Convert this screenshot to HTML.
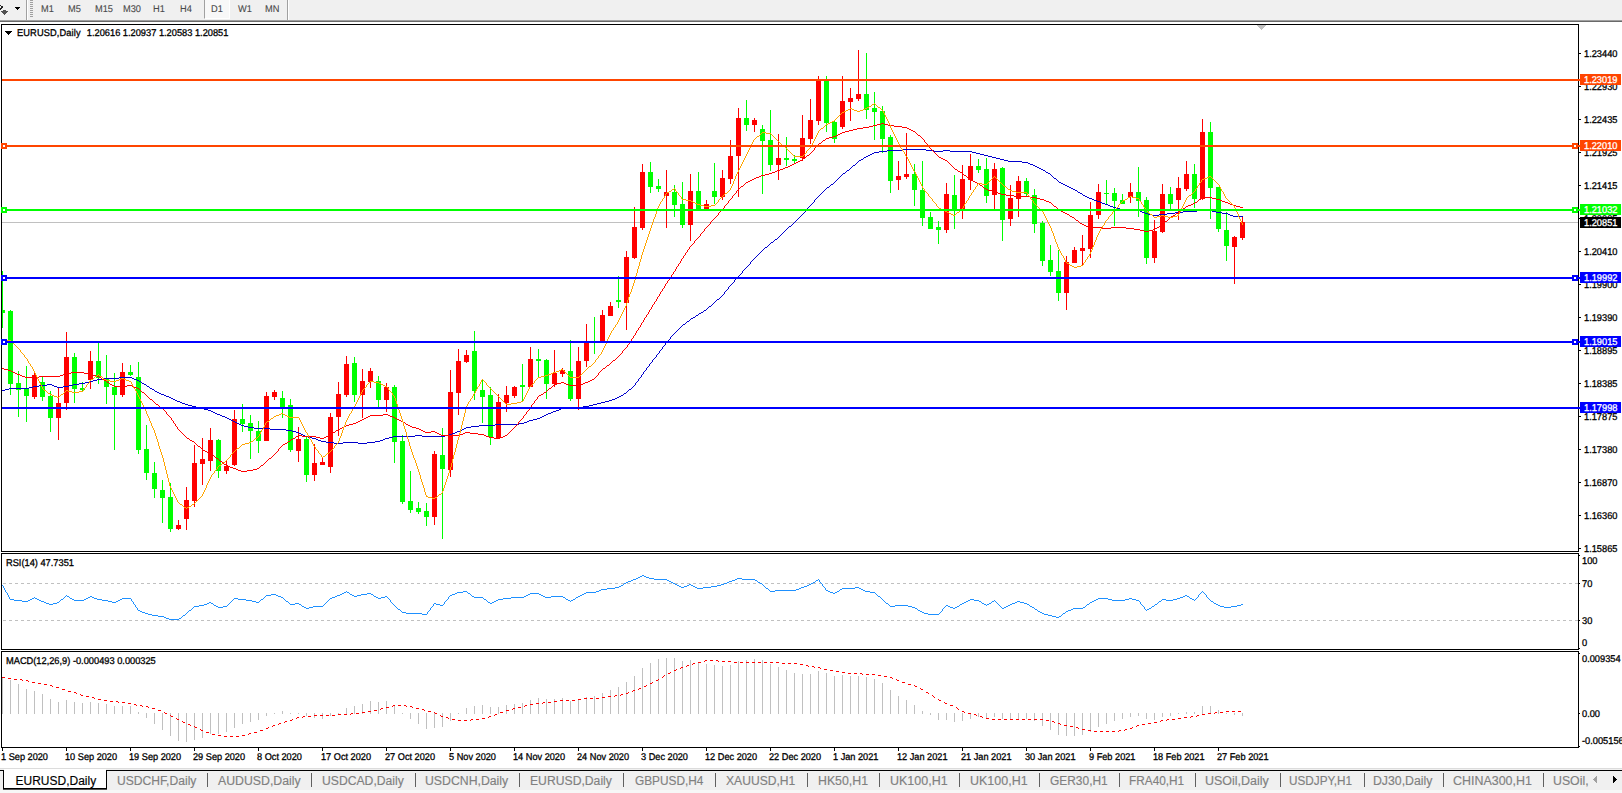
<!DOCTYPE html><html><head><meta charset="utf-8"><title>EURUSD,Daily</title><style>
html,body{margin:0;padding:0;background:#fff;}
body{width:1622px;height:793px;position:relative;overflow:hidden;font-family:"Liberation Sans",sans-serif;}
#app{position:absolute;left:0;top:0;width:1622px;height:793px;overflow:hidden;background:#fff;}
.tb{position:absolute;left:0;top:0;width:1622px;height:20px;background:#f0f0f0;}
.tb1{position:absolute;left:0;top:20px;width:1622px;height:1px;background:#a0a0a0;}
.tb2{position:absolute;left:0;top:21px;width:1622px;height:1px;background:#696969;}
.sep{position:absolute;top:0;width:1px;height:20px;background:#a0a0a0;}
.sepw{position:absolute;top:0;width:1px;height:20px;background:#fff;}
.s{position:absolute;font-size:9.8px;line-height:11px;color:#000;white-space:nowrap;transform:scaleX(.945);transform-origin:0 0;-webkit-text-stroke:.3px currentColor;text-rendering:geometricPrecision;}
.s.d{transform:scaleX(.937);}
.atabw{position:absolute;left:4px;top:769px;width:102px;height:2px;background:#fff;}
.s.btn{color:#484848;top:4px;-webkit-text-stroke:.1px currentColor;}
.sel{position:absolute;left:204px;top:0;width:26px;height:19px;background:#f8f8f8;border-left:1px solid #a0a0a0;border-right:1px solid #fff;border-bottom:1px solid #fff;box-sizing:border-box;}
.box{position:absolute;left:1580px;width:41px;height:11px;}
.box .s{left:4px;top:1px;color:#fff;}
.tabs{position:absolute;left:0;top:769px;width:1622px;height:21px;background:#f0f0f0;}
.tabs2{position:absolute;left:0;top:790px;width:1622px;height:3px;background:#f7f7f7;}
.tabline{position:absolute;left:0;top:768px;width:1622px;height:1px;background:#dcdcdc;}
.tabtop{position:absolute;left:0;top:770px;width:1622px;height:1px;background:#000;}
.atab{position:absolute;left:3px;top:770px;width:104px;height:20px;box-sizing:border-box;background:#fff;border-left:1px solid #000;border-right:1px solid #000;border-bottom:1px solid #000;box-shadow:0 1px 0 #505050;height:19px;}
.tab{position:absolute;top:773.5px;font-size:12px;line-height:14px;color:#808080;white-space:nowrap;transform:scaleX(1.1);transform-origin:0 0;-webkit-text-stroke:.15px currentColor;}
.tsep{position:absolute;top:773px;width:1px;height:14px;background:#606060;}
</style></head><body><div id="app">
<div class="tb"></div><div class="tb1"></div><div class="tb2"></div>
<div class="sel"></div>
<div class="sep" style="left:26px"></div><div class="sepw" style="left:27px"></div>
<div class="sep" style="left:287px"></div><div class="sepw" style="left:288px"></div>
<div class="s btn" style="left:41px">M1</div>
<div class="s btn" style="left:68px">M5</div>
<div class="s btn" style="left:95px">M15</div>
<div class="s btn" style="left:123px">M30</div>
<div class="s btn" style="left:153px">H1</div>
<div class="s btn" style="left:180px">H4</div>
<div class="s btn" style="left:210.5px">D1</div>
<div class="s btn" style="left:238px">W1</div>
<div class="s btn" style="left:265px">MN</div>
<div class="tabs"></div><div class="tabs2"></div><div class="tabline"></div><div class="tabtop"></div><div class="atab"></div><div class="atabw"></div>
<div class="tab" style="left:15.5px;transform:scaleX(1.0);color:#000">EURUSD,Daily</div>
<div class="tab" style="left:116.5px;transform:scaleX(1.009)">USDCHF,Daily</div>
<div class="tab" style="left:217.5px;transform:scaleX(1.024)">AUDUSD,Daily</div>
<div class="tab" style="left:321.5px;transform:scaleX(1.014)">USDCAD,Daily</div>
<div class="tab" style="left:425.0px;transform:scaleX(1.023)">USDCNH,Daily</div>
<div class="tab" style="left:529.5px;transform:scaleX(1.015)">EURUSD,Daily</div>
<div class="tab" style="left:635.0px;transform:scaleX(0.987)">GBPUSD,H4</div>
<div class="tab" style="left:726.0px;transform:scaleX(1.009)">XAUUSD,H1</div>
<div class="tab" style="left:817.5px;transform:scaleX(1.027)">HK50,H1</div>
<div class="tab" style="left:889.5px;transform:scaleX(1.04)">UK100,H1</div>
<div class="tab" style="left:970.0px;transform:scaleX(1.04)">UK100,H1</div>
<div class="tab" style="left:1049.5px;transform:scaleX(0.995)">GER30,H1</div>
<div class="tab" style="left:1129.0px;transform:scaleX(0.985)">FRA40,H1</div>
<div class="tab" style="left:1205.0px;transform:scaleX(1.039)">USOil,Daily</div>
<div class="tab" style="left:1289.0px;transform:scaleX(0.979)">USDJPY,H1</div>
<div class="tab" style="left:1373.0px;transform:scaleX(1.024)">DJ30,Daily</div>
<div class="tab" style="left:1452.5px;transform:scaleX(1.037)">CHINA300,H1</div>
<div class="tab" style="left:1553.0px;transform:scaleX(1.027)">USOil,</div>
<div class="tsep" style="left:207px"></div>
<div class="tsep" style="left:311px"></div>
<div class="tsep" style="left:415px"></div>
<div class="tsep" style="left:519px"></div>
<div class="tsep" style="left:623px"></div>
<div class="tsep" style="left:715px"></div>
<div class="tsep" style="left:807px"></div>
<div class="tsep" style="left:879px"></div>
<div class="tsep" style="left:959px"></div>
<div class="tsep" style="left:1039px"></div>
<div class="tsep" style="left:1119px"></div>
<div class="tsep" style="left:1195px"></div>
<div class="tsep" style="left:1280px"></div>
<div class="tsep" style="left:1364px"></div>
<div class="tsep" style="left:1443px"></div>
<div class="tsep" style="left:1543px"></div>
<svg width="1622" height="793" viewBox="0 0 1622 793" style="position:absolute;left:0;top:0">
<defs><clipPath id="cm"><rect x="2" y="25" width="1576" height="526"/></clipPath><clipPath id="cr"><rect x="2" y="554" width="1576" height="95"/></clipPath><clipPath id="cd"><rect x="2" y="652" width="1576" height="95"/></clipPath></defs>
<g clip-path="url(#cm)" shape-rendering="crispEdges">
<rect x="2" y="222" width="1576" height="1" fill="#c0c0c0"/>
<rect x="2" y="271" width="1" height="57" fill="#00ff00"/>
<rect x="0" y="310" width="5" height="3" fill="#00ff00"/>
<rect x="10" y="310" width="1" height="85" fill="#00ff00"/>
<rect x="8" y="311" width="5" height="73" fill="#00ff00"/>
<rect x="18" y="371" width="1" height="46" fill="#00ff00"/>
<rect x="16" y="383" width="5" height="7" fill="#00ff00"/>
<rect x="26" y="366" width="1" height="56" fill="#00ff00"/>
<rect x="24" y="389" width="5" height="7" fill="#00ff00"/>
<rect x="34" y="372" width="1" height="27" fill="#ff0000"/>
<rect x="32" y="375" width="5" height="22" fill="#ff0000"/>
<rect x="42" y="377" width="1" height="24" fill="#00ff00"/>
<rect x="40" y="382" width="5" height="15" fill="#00ff00"/>
<rect x="50" y="391" width="1" height="41" fill="#00ff00"/>
<rect x="48" y="396" width="5" height="22" fill="#00ff00"/>
<rect x="58" y="387" width="1" height="53" fill="#ff0000"/>
<rect x="56" y="403" width="5" height="15" fill="#ff0000"/>
<rect x="66" y="332" width="1" height="78" fill="#ff0000"/>
<rect x="64" y="357" width="5" height="46" fill="#ff0000"/>
<rect x="74" y="353" width="1" height="50" fill="#00ff00"/>
<rect x="72" y="357" width="5" height="32" fill="#00ff00"/>
<rect x="82" y="382" width="1" height="10" fill="#00ff00"/>
<rect x="80" y="388" width="5" height="2" fill="#00ff00"/>
<rect x="90" y="351" width="1" height="38" fill="#ff0000"/>
<rect x="88" y="361" width="5" height="19" fill="#ff0000"/>
<rect x="98" y="343" width="1" height="41" fill="#00ff00"/>
<rect x="96" y="361" width="5" height="17" fill="#00ff00"/>
<rect x="106" y="355" width="1" height="49" fill="#00ff00"/>
<rect x="104" y="379" width="5" height="8" fill="#00ff00"/>
<rect x="114" y="373" width="1" height="77" fill="#00ff00"/>
<rect x="112" y="387" width="5" height="8" fill="#00ff00"/>
<rect x="122" y="363" width="1" height="34" fill="#ff0000"/>
<rect x="120" y="372" width="5" height="23" fill="#ff0000"/>
<rect x="130" y="365" width="1" height="11" fill="#00ff00"/>
<rect x="128" y="372" width="5" height="3" fill="#00ff00"/>
<rect x="138" y="362" width="1" height="92" fill="#00ff00"/>
<rect x="136" y="377" width="5" height="73" fill="#00ff00"/>
<rect x="146" y="425" width="1" height="55" fill="#00ff00"/>
<rect x="144" y="449" width="5" height="24" fill="#00ff00"/>
<rect x="154" y="462" width="1" height="36" fill="#00ff00"/>
<rect x="152" y="473" width="5" height="16" fill="#00ff00"/>
<rect x="162" y="480" width="1" height="43" fill="#00ff00"/>
<rect x="160" y="490" width="5" height="8" fill="#00ff00"/>
<rect x="170" y="483" width="1" height="49" fill="#00ff00"/>
<rect x="168" y="497" width="5" height="32" fill="#00ff00"/>
<rect x="178" y="520" width="1" height="10" fill="#ff0000"/>
<rect x="176" y="525" width="5" height="4" fill="#ff0000"/>
<rect x="186" y="487" width="1" height="43" fill="#ff0000"/>
<rect x="184" y="500" width="5" height="19" fill="#ff0000"/>
<rect x="194" y="445" width="1" height="62" fill="#ff0000"/>
<rect x="192" y="463" width="5" height="38" fill="#ff0000"/>
<rect x="202" y="438" width="1" height="47" fill="#ff0000"/>
<rect x="200" y="459" width="5" height="5" fill="#ff0000"/>
<rect x="210" y="428" width="1" height="43" fill="#ff0000"/>
<rect x="208" y="440" width="5" height="21" fill="#ff0000"/>
<rect x="218" y="439" width="1" height="39" fill="#00ff00"/>
<rect x="216" y="440" width="5" height="31" fill="#00ff00"/>
<rect x="226" y="461" width="1" height="13" fill="#ff0000"/>
<rect x="224" y="466" width="5" height="5" fill="#ff0000"/>
<rect x="234" y="410" width="1" height="56" fill="#ff0000"/>
<rect x="232" y="419" width="5" height="46" fill="#ff0000"/>
<rect x="242" y="404" width="1" height="28" fill="#00ff00"/>
<rect x="240" y="419" width="5" height="5" fill="#00ff00"/>
<rect x="250" y="415" width="1" height="44" fill="#00ff00"/>
<rect x="248" y="423" width="5" height="8" fill="#00ff00"/>
<rect x="258" y="421" width="1" height="32" fill="#00ff00"/>
<rect x="256" y="431" width="5" height="10" fill="#00ff00"/>
<rect x="266" y="392" width="1" height="49" fill="#ff0000"/>
<rect x="264" y="396" width="5" height="45" fill="#ff0000"/>
<rect x="274" y="390" width="1" height="10" fill="#ff0000"/>
<rect x="272" y="392" width="5" height="5" fill="#ff0000"/>
<rect x="282" y="391" width="1" height="27" fill="#00ff00"/>
<rect x="280" y="398" width="5" height="10" fill="#00ff00"/>
<rect x="290" y="399" width="1" height="53" fill="#00ff00"/>
<rect x="288" y="405" width="5" height="45" fill="#00ff00"/>
<rect x="298" y="427" width="1" height="35" fill="#ff0000"/>
<rect x="296" y="439" width="5" height="12" fill="#ff0000"/>
<rect x="306" y="437" width="1" height="45" fill="#00ff00"/>
<rect x="304" y="439" width="5" height="36" fill="#00ff00"/>
<rect x="314" y="444" width="1" height="37" fill="#ff0000"/>
<rect x="312" y="463" width="5" height="12" fill="#ff0000"/>
<rect x="322" y="458" width="1" height="7" fill="#ff0000"/>
<rect x="320" y="462" width="5" height="3" fill="#ff0000"/>
<rect x="330" y="413" width="1" height="60" fill="#ff0000"/>
<rect x="328" y="417" width="5" height="50" fill="#ff0000"/>
<rect x="338" y="382" width="1" height="54" fill="#ff0000"/>
<rect x="336" y="394" width="5" height="23" fill="#ff0000"/>
<rect x="346" y="356" width="1" height="41" fill="#ff0000"/>
<rect x="344" y="364" width="5" height="31" fill="#ff0000"/>
<rect x="354" y="357" width="1" height="45" fill="#00ff00"/>
<rect x="352" y="363" width="5" height="32" fill="#00ff00"/>
<rect x="362" y="369" width="1" height="49" fill="#ff0000"/>
<rect x="360" y="381" width="5" height="14" fill="#ff0000"/>
<rect x="370" y="368" width="1" height="20" fill="#ff0000"/>
<rect x="368" y="371" width="5" height="11" fill="#ff0000"/>
<rect x="378" y="376" width="1" height="31" fill="#00ff00"/>
<rect x="376" y="381" width="5" height="19" fill="#00ff00"/>
<rect x="386" y="383" width="1" height="29" fill="#ff0000"/>
<rect x="384" y="387" width="5" height="13" fill="#ff0000"/>
<rect x="394" y="385" width="1" height="78" fill="#00ff00"/>
<rect x="392" y="387" width="5" height="55" fill="#00ff00"/>
<rect x="402" y="435" width="1" height="69" fill="#00ff00"/>
<rect x="400" y="441" width="5" height="61" fill="#00ff00"/>
<rect x="410" y="471" width="1" height="42" fill="#00ff00"/>
<rect x="408" y="501" width="5" height="9" fill="#00ff00"/>
<rect x="418" y="502" width="1" height="12" fill="#00ff00"/>
<rect x="416" y="508" width="5" height="4" fill="#00ff00"/>
<rect x="426" y="503" width="1" height="23" fill="#00ff00"/>
<rect x="424" y="511" width="5" height="6" fill="#00ff00"/>
<rect x="434" y="451" width="1" height="74" fill="#ff0000"/>
<rect x="432" y="454" width="5" height="63" fill="#ff0000"/>
<rect x="442" y="428" width="1" height="111" fill="#00ff00"/>
<rect x="440" y="455" width="5" height="14" fill="#00ff00"/>
<rect x="450" y="370" width="1" height="107" fill="#ff0000"/>
<rect x="448" y="392" width="5" height="78" fill="#ff0000"/>
<rect x="458" y="349" width="1" height="66" fill="#ff0000"/>
<rect x="456" y="361" width="5" height="32" fill="#ff0000"/>
<rect x="466" y="350" width="1" height="13" fill="#ff0000"/>
<rect x="464" y="355" width="5" height="7" fill="#ff0000"/>
<rect x="474" y="331" width="1" height="69" fill="#00ff00"/>
<rect x="472" y="351" width="5" height="40" fill="#00ff00"/>
<rect x="482" y="379" width="1" height="44" fill="#00ff00"/>
<rect x="480" y="390" width="5" height="7" fill="#00ff00"/>
<rect x="490" y="387" width="1" height="58" fill="#00ff00"/>
<rect x="488" y="395" width="5" height="42" fill="#00ff00"/>
<rect x="498" y="394" width="1" height="44" fill="#ff0000"/>
<rect x="496" y="402" width="5" height="36" fill="#ff0000"/>
<rect x="506" y="386" width="1" height="26" fill="#ff0000"/>
<rect x="504" y="395" width="5" height="8" fill="#ff0000"/>
<rect x="514" y="386" width="1" height="12" fill="#ff0000"/>
<rect x="512" y="387" width="5" height="9" fill="#ff0000"/>
<rect x="522" y="364" width="1" height="37" fill="#00ff00"/>
<rect x="520" y="385" width="5" height="2" fill="#00ff00"/>
<rect x="530" y="347" width="1" height="40" fill="#ff0000"/>
<rect x="528" y="359" width="5" height="28" fill="#ff0000"/>
<rect x="538" y="349" width="1" height="28" fill="#00ff00"/>
<rect x="536" y="359" width="5" height="2" fill="#00ff00"/>
<rect x="546" y="359" width="1" height="40" fill="#00ff00"/>
<rect x="544" y="360" width="5" height="24" fill="#00ff00"/>
<rect x="554" y="350" width="1" height="37" fill="#ff0000"/>
<rect x="552" y="373" width="5" height="11" fill="#ff0000"/>
<rect x="562" y="368" width="1" height="9" fill="#ff0000"/>
<rect x="560" y="370" width="5" height="4" fill="#ff0000"/>
<rect x="570" y="340" width="1" height="61" fill="#00ff00"/>
<rect x="568" y="371" width="5" height="28" fill="#00ff00"/>
<rect x="578" y="347" width="1" height="63" fill="#ff0000"/>
<rect x="576" y="361" width="5" height="38" fill="#ff0000"/>
<rect x="586" y="324" width="1" height="43" fill="#ff0000"/>
<rect x="584" y="341" width="5" height="20" fill="#ff0000"/>
<rect x="594" y="317" width="1" height="37" fill="#00ff00"/>
<rect x="592" y="341" width="5" height="2" fill="#00ff00"/>
<rect x="602" y="310" width="1" height="32" fill="#ff0000"/>
<rect x="600" y="315" width="5" height="27" fill="#ff0000"/>
<rect x="610" y="302" width="1" height="14" fill="#ff0000"/>
<rect x="608" y="306" width="5" height="10" fill="#ff0000"/>
<rect x="618" y="276" width="1" height="32" fill="#00ff00"/>
<rect x="616" y="300" width="5" height="2" fill="#00ff00"/>
<rect x="626" y="251" width="1" height="79" fill="#ff0000"/>
<rect x="624" y="257" width="5" height="46" fill="#ff0000"/>
<rect x="634" y="207" width="1" height="52" fill="#ff0000"/>
<rect x="632" y="227" width="5" height="31" fill="#ff0000"/>
<rect x="642" y="164" width="1" height="66" fill="#ff0000"/>
<rect x="640" y="172" width="5" height="56" fill="#ff0000"/>
<rect x="650" y="162" width="1" height="31" fill="#00ff00"/>
<rect x="648" y="172" width="5" height="15" fill="#00ff00"/>
<rect x="658" y="179" width="1" height="13" fill="#00ff00"/>
<rect x="656" y="186" width="5" height="3" fill="#00ff00"/>
<rect x="666" y="170" width="1" height="58" fill="#ff0000"/>
<rect x="664" y="192" width="5" height="4" fill="#ff0000"/>
<rect x="674" y="185" width="1" height="32" fill="#00ff00"/>
<rect x="672" y="192" width="5" height="13" fill="#00ff00"/>
<rect x="682" y="182" width="1" height="46" fill="#00ff00"/>
<rect x="680" y="204" width="5" height="21" fill="#00ff00"/>
<rect x="690" y="174" width="1" height="67" fill="#ff0000"/>
<rect x="688" y="191" width="5" height="34" fill="#ff0000"/>
<rect x="698" y="172" width="1" height="38" fill="#00ff00"/>
<rect x="696" y="191" width="5" height="19" fill="#00ff00"/>
<rect x="706" y="200" width="1" height="10" fill="#ff0000"/>
<rect x="704" y="204" width="5" height="6" fill="#ff0000"/>
<rect x="714" y="163" width="1" height="41" fill="#00ff00"/>
<rect x="712" y="191" width="5" height="6" fill="#00ff00"/>
<rect x="722" y="170" width="1" height="30" fill="#ff0000"/>
<rect x="720" y="178" width="5" height="19" fill="#ff0000"/>
<rect x="730" y="140" width="1" height="44" fill="#ff0000"/>
<rect x="728" y="156" width="5" height="23" fill="#ff0000"/>
<rect x="738" y="108" width="1" height="89" fill="#ff0000"/>
<rect x="736" y="118" width="5" height="38" fill="#ff0000"/>
<rect x="746" y="100" width="1" height="31" fill="#00ff00"/>
<rect x="744" y="118" width="5" height="7" fill="#00ff00"/>
<rect x="754" y="118" width="1" height="14" fill="#ff0000"/>
<rect x="752" y="120" width="5" height="5" fill="#ff0000"/>
<rect x="762" y="125" width="1" height="69" fill="#00ff00"/>
<rect x="760" y="129" width="5" height="12" fill="#00ff00"/>
<rect x="770" y="110" width="1" height="61" fill="#00ff00"/>
<rect x="768" y="140" width="5" height="25" fill="#00ff00"/>
<rect x="778" y="134" width="1" height="46" fill="#ff0000"/>
<rect x="776" y="158" width="5" height="7" fill="#ff0000"/>
<rect x="786" y="137" width="1" height="29" fill="#00ff00"/>
<rect x="784" y="158" width="5" height="2" fill="#00ff00"/>
<rect x="794" y="155" width="1" height="8" fill="#00ff00"/>
<rect x="792" y="159" width="5" height="2" fill="#00ff00"/>
<rect x="802" y="115" width="1" height="46" fill="#ff0000"/>
<rect x="800" y="138" width="5" height="20" fill="#ff0000"/>
<rect x="810" y="99" width="1" height="45" fill="#ff0000"/>
<rect x="808" y="120" width="5" height="19" fill="#ff0000"/>
<rect x="818" y="76" width="1" height="49" fill="#ff0000"/>
<rect x="816" y="80" width="5" height="41" fill="#ff0000"/>
<rect x="826" y="76" width="1" height="56" fill="#00ff00"/>
<rect x="824" y="80" width="5" height="43" fill="#00ff00"/>
<rect x="834" y="121" width="1" height="22" fill="#00ff00"/>
<rect x="832" y="122" width="5" height="17" fill="#00ff00"/>
<rect x="842" y="76" width="1" height="53" fill="#ff0000"/>
<rect x="840" y="101" width="5" height="26" fill="#ff0000"/>
<rect x="850" y="88" width="1" height="33" fill="#ff0000"/>
<rect x="848" y="98" width="5" height="4" fill="#ff0000"/>
<rect x="858" y="50" width="1" height="51" fill="#ff0000"/>
<rect x="856" y="94" width="5" height="5" fill="#ff0000"/>
<rect x="866" y="53" width="1" height="66" fill="#00ff00"/>
<rect x="864" y="94" width="5" height="16" fill="#00ff00"/>
<rect x="874" y="92" width="1" height="48" fill="#00ff00"/>
<rect x="872" y="108" width="5" height="4" fill="#00ff00"/>
<rect x="882" y="106" width="1" height="47" fill="#00ff00"/>
<rect x="880" y="111" width="5" height="28" fill="#00ff00"/>
<rect x="890" y="135" width="1" height="58" fill="#00ff00"/>
<rect x="888" y="137" width="5" height="44" fill="#00ff00"/>
<rect x="898" y="161" width="1" height="29" fill="#ff0000"/>
<rect x="896" y="176" width="5" height="4" fill="#ff0000"/>
<rect x="906" y="133" width="1" height="46" fill="#ff0000"/>
<rect x="904" y="174" width="5" height="3" fill="#ff0000"/>
<rect x="914" y="164" width="1" height="42" fill="#00ff00"/>
<rect x="912" y="174" width="5" height="16" fill="#00ff00"/>
<rect x="922" y="161" width="1" height="65" fill="#00ff00"/>
<rect x="920" y="190" width="5" height="28" fill="#00ff00"/>
<rect x="930" y="212" width="1" height="17" fill="#00ff00"/>
<rect x="928" y="217" width="5" height="12" fill="#00ff00"/>
<rect x="938" y="221" width="1" height="23" fill="#00ff00"/>
<rect x="936" y="227" width="5" height="3" fill="#00ff00"/>
<rect x="946" y="183" width="1" height="50" fill="#ff0000"/>
<rect x="944" y="194" width="5" height="36" fill="#ff0000"/>
<rect x="954" y="175" width="1" height="54" fill="#00ff00"/>
<rect x="952" y="195" width="5" height="15" fill="#00ff00"/>
<rect x="962" y="165" width="1" height="54" fill="#ff0000"/>
<rect x="960" y="179" width="5" height="31" fill="#ff0000"/>
<rect x="970" y="154" width="1" height="36" fill="#ff0000"/>
<rect x="968" y="166" width="5" height="14" fill="#ff0000"/>
<rect x="978" y="159" width="1" height="14" fill="#00ff00"/>
<rect x="976" y="166" width="5" height="4" fill="#00ff00"/>
<rect x="986" y="158" width="1" height="45" fill="#00ff00"/>
<rect x="984" y="169" width="5" height="27" fill="#00ff00"/>
<rect x="994" y="163" width="1" height="46" fill="#ff0000"/>
<rect x="992" y="169" width="5" height="26" fill="#ff0000"/>
<rect x="1002" y="167" width="1" height="74" fill="#00ff00"/>
<rect x="1000" y="168" width="5" height="52" fill="#00ff00"/>
<rect x="1010" y="185" width="1" height="41" fill="#ff0000"/>
<rect x="1008" y="198" width="5" height="21" fill="#ff0000"/>
<rect x="1018" y="176" width="1" height="41" fill="#ff0000"/>
<rect x="1016" y="181" width="5" height="18" fill="#ff0000"/>
<rect x="1026" y="178" width="1" height="18" fill="#00ff00"/>
<rect x="1024" y="181" width="5" height="13" fill="#00ff00"/>
<rect x="1034" y="189" width="1" height="44" fill="#00ff00"/>
<rect x="1032" y="195" width="5" height="29" fill="#00ff00"/>
<rect x="1042" y="221" width="1" height="45" fill="#00ff00"/>
<rect x="1040" y="223" width="5" height="38" fill="#00ff00"/>
<rect x="1050" y="245" width="1" height="31" fill="#00ff00"/>
<rect x="1048" y="260" width="5" height="12" fill="#00ff00"/>
<rect x="1058" y="250" width="1" height="51" fill="#00ff00"/>
<rect x="1056" y="271" width="5" height="22" fill="#00ff00"/>
<rect x="1066" y="256" width="1" height="54" fill="#ff0000"/>
<rect x="1064" y="262" width="5" height="31" fill="#ff0000"/>
<rect x="1074" y="247" width="1" height="16" fill="#ff0000"/>
<rect x="1072" y="250" width="5" height="13" fill="#ff0000"/>
<rect x="1082" y="235" width="1" height="30" fill="#ff0000"/>
<rect x="1080" y="248" width="5" height="3" fill="#ff0000"/>
<rect x="1090" y="202" width="1" height="56" fill="#ff0000"/>
<rect x="1088" y="215" width="5" height="34" fill="#ff0000"/>
<rect x="1098" y="184" width="1" height="35" fill="#ff0000"/>
<rect x="1096" y="192" width="5" height="23" fill="#ff0000"/>
<rect x="1106" y="180" width="1" height="24" fill="#00ff00"/>
<rect x="1104" y="193" width="5" height="1" fill="#00ff00"/>
<rect x="1114" y="188" width="1" height="38" fill="#00ff00"/>
<rect x="1112" y="193" width="5" height="8" fill="#00ff00"/>
<rect x="1122" y="194" width="1" height="10" fill="#00ff00"/>
<rect x="1120" y="200" width="5" height="4" fill="#00ff00"/>
<rect x="1130" y="183" width="1" height="20" fill="#ff0000"/>
<rect x="1128" y="192" width="5" height="5" fill="#ff0000"/>
<rect x="1138" y="167" width="1" height="50" fill="#00ff00"/>
<rect x="1136" y="192" width="5" height="9" fill="#00ff00"/>
<rect x="1146" y="197" width="1" height="67" fill="#00ff00"/>
<rect x="1144" y="200" width="5" height="58" fill="#00ff00"/>
<rect x="1154" y="220" width="1" height="43" fill="#ff0000"/>
<rect x="1152" y="231" width="5" height="27" fill="#ff0000"/>
<rect x="1162" y="184" width="1" height="49" fill="#ff0000"/>
<rect x="1160" y="194" width="5" height="38" fill="#ff0000"/>
<rect x="1170" y="187" width="1" height="22" fill="#00ff00"/>
<rect x="1168" y="194" width="5" height="10" fill="#00ff00"/>
<rect x="1178" y="177" width="1" height="43" fill="#ff0000"/>
<rect x="1176" y="188" width="5" height="12" fill="#ff0000"/>
<rect x="1186" y="161" width="1" height="30" fill="#ff0000"/>
<rect x="1184" y="174" width="5" height="15" fill="#ff0000"/>
<rect x="1194" y="164" width="1" height="44" fill="#00ff00"/>
<rect x="1192" y="174" width="5" height="25" fill="#00ff00"/>
<rect x="1202" y="119" width="1" height="81" fill="#ff0000"/>
<rect x="1200" y="132" width="5" height="67" fill="#ff0000"/>
<rect x="1210" y="122" width="1" height="97" fill="#00ff00"/>
<rect x="1208" y="132" width="5" height="56" fill="#00ff00"/>
<rect x="1218" y="187" width="1" height="45" fill="#00ff00"/>
<rect x="1216" y="187" width="5" height="42" fill="#00ff00"/>
<rect x="1226" y="212" width="1" height="49" fill="#00ff00"/>
<rect x="1224" y="230" width="5" height="16" fill="#00ff00"/>
<rect x="1234" y="236" width="1" height="48" fill="#ff0000"/>
<rect x="1232" y="237" width="5" height="10" fill="#ff0000"/>
<rect x="1242" y="216" width="1" height="24" fill="#ff0000"/>
<rect x="1240" y="222" width="5" height="16" fill="#ff0000"/>
</g>
<g clip-path="url(#cm)" shape-rendering="crispEdges">
<path d="M2 390.5h3M5 389.5h4M9 388.5h20M29 387.5h4M33 386.5h6M39 385.5h8M47 384.5h5M52 385.5h2M54 386.5h3M57 387.5h6M63 386.5h6M69 385.5h4M73 384.5h6M79 383.5h6M85 382.5h4M89 381.5h4M93 380.5h4M97 379.5h6M103 378.5h16M119 377.5h13M132 378.5h2M134 379.5h3M137 380.5h2M139 381.5h2M141 382.5h1M142 383.5h2M144 384.5h2M146 385.5h1M147 386.5h2M149 387.5h1M150 388.5h2M152 389.5h2M154 390.5h1M155 391.5h2M157 392.5h2M159 393.5h2M161 394.5h3M164 395.5h2M166 396.5h3M169 397.5h2M171 398.5h2M173 399.5h2M175 400.5h2M177 401.5h3M180 402.5h2M182 403.5h3M185 404.5h3M188 405.5h4M192 406.5h4M196 407.5h4M200 408.5h4M204 409.5h4M208 410.5h3M211 411.5h2M213 412.5h2M215 413.5h2M217 414.5h3M220 415.5h2M222 416.5h3M225 417.5h2M227 418.5h2M229 419.5h2M231 420.5h2M233 421.5h2M235 422.5h2M237 423.5h2M239 424.5h2M241 425.5h3M244 426.5h4M248 427.5h6M254 428.5h16M270 429.5h16M286 430.5h6M292 431.5h4M296 432.5h3M299 433.5h2M301 434.5h2M303 435.5h2M305 436.5h3M308 437.5h4M312 438.5h4M316 439.5h2M318 440.5h3M321 441.5h5M326 442.5h8M334 443.5h9M343 442.5h15M358 443.5h9M367 442.5h8M375 441.5h5M380 440.5h3M383 439.5h2M385 438.5h4M389 437.5h4M393 436.5h22M415 435.5h7M422 436.5h23M445 435.5h4M449 434.5h3M452 433.5h3M455 432.5h2M457 431.5h3M460 430.5h2M462 429.5h2M464 428.5h2M466 427.5h5M471 426.5h8M479 425.5h16M495 424.5h24M519 423.5h5M524 422.5h3M527 421.5h2M529 420.5h4M533 419.5h4M537 418.5h3M540 417.5h2M542 416.5h2M544 415.5h2M546 414.5h2M548 413.5h3M551 412.5h2M553 411.5h3M556 410.5h3M559 409.5h2M561 408.5h14M575 407.5h8M583 406.5h6M589 405.5h4M593 404.5h4M597 403.5h4M601 402.5h4M605 401.5h4M609 400.5h3M612 399.5h3M615 398.5h2M617 397.5h2M619 396.5h2M621 395.5h2M623 394.5h1M624 393.5h2M626 392.5h1M627 391.5h1M628 390.5h1M629 389.5h2M631 388.5h1M632 387.5h1M633 386.5h1M634 385.5h1M635.5 383v2M636 382.5h1M637 381.5h1M638.5 379v2M639 378.5h1M640 377.5h1M641.5 375v2M642 374.5h1M643.5 372v2M644 371.5h1M645 370.5h1M646.5 368v2M647 367.5h1M648 366.5h1M649.5 364v2M650 363.5h1M651 362.5h1M652.5 360v2M653 359.5h1M654 358.5h1M655 357.5h1M656.5 355v2M657 354.5h1M658 353.5h1M659.5 351v2M660 350.5h1M661 349.5h1M662.5 347v2M663 346.5h1M664 345.5h1M665.5 343v2M666 342.5h1M667 341.5h1M668 340.5h1M669 339.5h1M670.5 337v2M671 336.5h1M672 335.5h1M673 334.5h1M674 333.5h1M675 332.5h1M676 331.5h1M677 330.5h1M678 329.5h1M679 328.5h1M680 327.5h1M681 326.5h1M682 325.5h1M683 324.5h2M685 323.5h1M686 322.5h1M687 321.5h2M689 320.5h1M690 319.5h1M691 318.5h2M693 317.5h2M695 316.5h1M696 315.5h2M698 314.5h1M699 313.5h2M701 312.5h2M703 311.5h1M704 310.5h2M706 309.5h1M707 308.5h1M708 307.5h1M709 306.5h2M711 305.5h1M712 304.5h1M713 303.5h1M714 302.5h1M715 301.5h1M716 300.5h1M717 299.5h2M719 298.5h1M720 297.5h1M721 296.5h1M722 295.5h1M723 294.5h1M724.5 292v2M725 291.5h1M726 290.5h1M727 289.5h1M728.5 287v2M729 286.5h1M730 285.5h1M731 284.5h1M732 283.5h1M733 282.5h1M734.5 280v2M735 279.5h1M736 278.5h1M737 277.5h1M738 276.5h1M739 275.5h1M740 274.5h1M741 273.5h1M742.5 271v2M743 270.5h1M744 269.5h1M745 268.5h1M746 267.5h1M747 266.5h1M748 265.5h1M749 264.5h1M750.5 262v2M751 261.5h1M752 260.5h1M753 259.5h1M754 258.5h1M755 257.5h1M756 256.5h1M757 255.5h1M758 254.5h1M759 253.5h1M760 252.5h1M761 251.5h1M762 250.5h1M763 249.5h1M764 248.5h1M765 247.5h2M767 246.5h1M768 245.5h1M769 244.5h1M770 243.5h1M771 242.5h2M773 241.5h1M774 240.5h1M775 239.5h2M777 238.5h1M778 237.5h1M779 236.5h1M780 235.5h1M781 234.5h1M782 233.5h1M783 232.5h1M784 231.5h1M785 230.5h1M786 229.5h1M787 228.5h1M788 227.5h1M789 226.5h2M791 225.5h1M792 224.5h1M793 223.5h1M794 222.5h1M795 221.5h1M796 220.5h1M797 219.5h1M798 218.5h1M799 217.5h1M800 216.5h1M801 215.5h1M802 214.5h1M803 213.5h1M804 212.5h1M805 211.5h1M806.5 209v2M807 208.5h1M808 207.5h1M809 206.5h1M810 205.5h1M811 204.5h1M812 203.5h1M813 202.5h1M814.5 200v2M815 199.5h1M816 198.5h1M817 197.5h1M818 196.5h1M819 195.5h1M820 194.5h1M821 193.5h1M822 192.5h1M823 191.5h1M824 190.5h1M825 189.5h1M826 188.5h1M827 187.5h2M829 186.5h1M830 185.5h1M831 184.5h2M833 183.5h1M834 182.5h1M835 181.5h1M836 180.5h1M837 179.5h1M838 178.5h1M839 177.5h1M840 176.5h1M841 175.5h1M842 174.5h1M843 173.5h2M845 172.5h1M846 171.5h1M847 170.5h2M849 169.5h1M850 168.5h1M851 167.5h1M852 166.5h1M853 165.5h2M855 164.5h1M856 163.5h1M857 162.5h1M858 161.5h1M859 160.5h2M861 159.5h2M863 158.5h1M864 157.5h2M866 156.5h2M868 155.5h2M870 154.5h2M872 153.5h2M874 152.5h5M879 151.5h8M887 150.5h16M903 149.5h23M926 150.5h8M934 151.5h9M943 150.5h7M950 151.5h22M972 152.5h4M976 153.5h4M980 154.5h4M984 155.5h4M988 156.5h4M992 157.5h4M996 158.5h4M1000 159.5h4M1004 160.5h4M1008 161.5h14M1022 162.5h6M1028 163.5h2M1030 164.5h3M1033 165.5h2M1035 166.5h2M1037 167.5h2M1039 168.5h2M1041 169.5h2M1043 170.5h2M1045 171.5h1M1046 172.5h2M1048 173.5h2M1050 174.5h1M1051 175.5h1M1052 176.5h1M1053 177.5h1M1054 178.5h2M1056 179.5h1M1057 180.5h1M1058 181.5h1M1059 182.5h2M1061 183.5h2M1063 184.5h2M1065 185.5h2M1067 186.5h2M1069 187.5h2M1071 188.5h2M1073 189.5h2M1075 190.5h2M1077 191.5h1M1078 192.5h2M1080 193.5h2M1082 194.5h1M1083 195.5h2M1085 196.5h2M1087 197.5h2M1089 198.5h3M1092 199.5h2M1094 200.5h3M1097 201.5h3M1100 202.5h2M1102 203.5h3M1105 204.5h3M1108 205.5h2M1110 206.5h3M1113 207.5h3M1116 208.5h4M1120 209.5h6M1126 210.5h14M1140 211.5h2M1142 212.5h3M1145 213.5h3M1148 214.5h4M1152 215.5h7M1159 214.5h8M1167 213.5h8M1175 212.5h8M1183 211.5h14M1197 210.5h4M1201 209.5h5M1206 210.5h6M1212 211.5h4M1216 212.5h6M1222 213.5h6M1228 214.5h2M1230 215.5h3M1233 216.5h10" fill="none" stroke="#0000cd" stroke-width="1"/>
<path d="M2 368.5h2M4 369.5h4M8 370.5h3M11 371.5h2M13 372.5h2M15 373.5h2M17 374.5h3M20 375.5h2M22 376.5h3M25 377.5h14M39 376.5h21M60 375.5h3M63 374.5h2M65 373.5h6M71 372.5h13M84 373.5h4M88 374.5h4M92 375.5h4M96 376.5h3M99 377.5h2M101 378.5h1M102 379.5h2M104 380.5h2M106 381.5h1M107 382.5h2M109 383.5h1M110 384.5h2M112 385.5h2M114 386.5h13M127 385.5h5M132 386.5h2M134 387.5h3M137 388.5h2M139 389.5h1M140 390.5h1M141 391.5h1M142 392.5h2M144 393.5h1M145 394.5h1M146 395.5h1M147 396.5h1M148 397.5h1M149 398.5h1M150 399.5h2M152 400.5h1M153 401.5h1M154 402.5h1M155 403.5h1M156 404.5h2M158 405.5h1M159 406.5h1M160 407.5h2M162 408.5h1M163 409.5h1M164 410.5h1M165 411.5h1M166.5 412v2M167 414.5h1M168 415.5h1M169 416.5h1M170 417.5h1M171.5 418v2M172 420.5h1M173.5 421v2M174 423.5h1M175.5 424v2M176 426.5h1M177.5 427v2M178 429.5h1M179 430.5h1M180 431.5h1M181 432.5h1M182 433.5h1M183 434.5h1M184 435.5h1M185 436.5h1M186 437.5h1M187 438.5h2M189 439.5h1M190 440.5h2M192 441.5h2M194 442.5h1M195 443.5h1M196 444.5h1M197 445.5h1M198 446.5h2M200 447.5h1M201 448.5h1M202 449.5h1M203 450.5h2M205 451.5h2M207 452.5h2M209 453.5h2M211 454.5h1M212 455.5h2M214 456.5h1M215 457.5h1M216 458.5h2M218 459.5h1M219 460.5h1M220 461.5h2M222 462.5h1M223 463.5h1M224 464.5h2M226 465.5h2M228 466.5h2M230 467.5h3M233 468.5h3M236 469.5h2M238 470.5h3M241 471.5h6M247 470.5h6M253 469.5h4M257 468.5h2M259 467.5h1M260 466.5h1M261 465.5h2M263 464.5h1M264 463.5h1M265 462.5h1M266 461.5h1M267 460.5h1M268 459.5h1M269 458.5h2M271 457.5h1M272 456.5h1M273 455.5h1M274 454.5h1M275 453.5h1M276 452.5h1M277 451.5h1M278.5 449v2M279 448.5h1M280 447.5h1M281 446.5h1M282 445.5h1M283 444.5h2M285 443.5h2M287 442.5h1M288 441.5h2M290 440.5h1M291 439.5h2M293 438.5h2M295 437.5h1M296 436.5h2M298 435.5h4M302 436.5h14M316 437.5h4M320 438.5h4M324 437.5h2M326 436.5h2M328 435.5h2M330 434.5h1M331 433.5h2M333 432.5h2M335 431.5h1M336 430.5h2M338 429.5h2M340 428.5h2M342 427.5h2M344 426.5h2M346 425.5h3M349 424.5h4M353 423.5h3M356 422.5h2M358 421.5h2M360 420.5h2M362 419.5h2M364 418.5h2M366 417.5h2M368 416.5h2M370 415.5h13M383 414.5h5M388 415.5h2M390 416.5h3M393 417.5h2M395 418.5h2M397 419.5h2M399 420.5h2M401 421.5h2M403 422.5h2M405 423.5h1M406 424.5h2M408 425.5h2M410 426.5h2M412 427.5h4M416 428.5h3M419 429.5h2M421 430.5h2M423 431.5h2M425 432.5h6M431 431.5h4M435 432.5h2M437 433.5h2M439 434.5h2M441 435.5h19M460 434.5h3M463 433.5h2M465 432.5h5M470 433.5h8M478 434.5h6M484 435.5h2M486 436.5h3M489 437.5h5M494 438.5h6M500 437.5h3M503 436.5h2M505 435.5h2M507 434.5h1M508 433.5h1M509 432.5h1M510 431.5h1M511 430.5h1M512 429.5h1M513 428.5h1M514 427.5h1M515 426.5h1M516 425.5h1M517 424.5h1M518.5 422v2M519 421.5h1M520 420.5h1M521 419.5h1M522 418.5h1M523.5 416v2M524 415.5h1M525 414.5h1M526.5 412v2M527 411.5h1M528 410.5h1M529.5 408v2M530 407.5h1M531.5 405v2M532 404.5h1M533 403.5h1M534.5 401v2M535 400.5h1M536 399.5h1M537.5 397v2M538 396.5h1M539 395.5h2M541 394.5h2M543 393.5h1M544 392.5h2M546 391.5h1M547 390.5h1M548 389.5h1M549 388.5h2M551 387.5h1M552 386.5h1M553 385.5h1M554 384.5h3M557 383.5h4M561 382.5h3M564 383.5h2M566 384.5h3M569 385.5h11M580 384.5h3M583 383.5h2M585 382.5h3M588 381.5h2M590 380.5h2M592 379.5h2M594 378.5h1M595 377.5h1M596 376.5h1M597 375.5h1M598.5 373v2M599 372.5h1M600 371.5h1M601 370.5h1M602 369.5h1M603 368.5h2M605 367.5h1M606 366.5h1M607 365.5h2M609 364.5h1M610 363.5h1M611 362.5h1M612 361.5h1M613 360.5h2M615 359.5h1M616 358.5h1M617 357.5h1M618 356.5h1M619 355.5h1M620 354.5h1M621 353.5h1M622.5 351v2M623 350.5h1M624 349.5h1M625 348.5h1M626 347.5h1M627.5 345v2M628 344.5h1M629.5 342v2M630 341.5h1M631.5 339v2M632 338.5h1M633.5 336v2M634 335.5h1M635.5 333v2M636.5 331v2M637 330.5h1M638.5 328v2M639 327.5h1M640.5 325v2M641.5 323v2M642 322.5h1M643.5 320v2M644.5 318v2M645 317.5h1M646.5 315v2M647 314.5h1M648.5 312v2M649.5 310v2M650 309.5h1M651.5 307v2M652.5 305v2M653 304.5h1M654.5 302v2M655 301.5h1M656.5 299v2M657.5 297v2M658 296.5h1M659.5 294v2M660.5 292v2M661 291.5h1M662.5 289v2M663 288.5h1M664.5 286v2M665.5 284v2M666 283.5h1M667.5 281v2M668 280.5h1M669.5 278v2M670 277.5h1M671.5 275v2M672 274.5h1M673.5 272v2M674 271.5h1M675.5 269v2M676.5 267v2M677 266.5h1M678.5 264v2M679 263.5h1M680.5 261v2M681.5 259v2M682 258.5h1M683.5 256v2M684 255.5h1M685.5 253v2M686 252.5h1M687.5 250v2M688 249.5h1M689.5 247v2M690 246.5h1M691 245.5h1M692 244.5h1M693 243.5h1M694.5 241v2M695 240.5h1M696 239.5h1M697 238.5h1M698 237.5h1M699 236.5h1M700.5 234v2M701 233.5h1M702 232.5h1M703 231.5h1M704.5 229v2M705 228.5h1M706 227.5h1M707 226.5h1M708 225.5h1M709 224.5h1M710.5 222v2M711 221.5h1M712 220.5h1M713 219.5h1M714 218.5h1M715 217.5h1M716 216.5h1M717 215.5h1M718.5 213v2M719 212.5h1M720 211.5h1M721 210.5h1M722 209.5h1M723 208.5h1M724.5 206v2M725 205.5h1M726 204.5h1M727 203.5h1M728.5 201v2M729 200.5h1M730 199.5h1M731 198.5h1M732.5 196v2M733 195.5h1M734 194.5h1M735 193.5h1M736.5 191v2M737 190.5h1M738 189.5h1M739 188.5h1M740 187.5h1M741 186.5h2M743 185.5h1M744 184.5h1M745 183.5h1M746 182.5h2M748 181.5h2M750 180.5h2M752 179.5h2M754 178.5h2M756 177.5h3M759 176.5h2M761 175.5h4M765 174.5h4M769 173.5h3M772 172.5h3M775 171.5h2M777 170.5h3M780 169.5h3M783 168.5h2M785 167.5h3M788 166.5h2M790 165.5h2M792 164.5h2M794 163.5h2M796 162.5h2M798 161.5h2M800 160.5h2M802 159.5h1M803 158.5h2M805 157.5h1M806 156.5h1M807 155.5h2M809 154.5h1M810 153.5h1M811 152.5h1M812 151.5h1M813 150.5h1M814.5 148v2M815 147.5h1M816 146.5h1M817 145.5h1M818 144.5h1M819 143.5h2M821 142.5h1M822 141.5h1M823 140.5h2M825 139.5h1M826 138.5h3M829 137.5h4M833 136.5h3M836 135.5h2M838 134.5h2M840 133.5h2M842 132.5h3M845 131.5h4M849 130.5h4M853 129.5h4M857 128.5h6M863 127.5h6M869 126.5h4M873 125.5h4M877 124.5h4M881 123.5h3M884 124.5h4M888 125.5h6M894 126.5h8M902 127.5h5M907 128.5h2M909 129.5h2M911 130.5h2M913 131.5h2M915 132.5h1M916 133.5h1M917 134.5h1M918 135.5h2M920 136.5h1M921 137.5h1M922 138.5h1M923 139.5h1M924.5 140v2M925 142.5h1M926 143.5h1M927 144.5h1M928.5 145v2M929 147.5h1M930 148.5h1M931 149.5h1M932 150.5h1M933 151.5h1M934 152.5h1M935 153.5h1M936 154.5h1M937 155.5h1M938 156.5h1M939 157.5h2M941 158.5h2M943 159.5h2M945 160.5h2M947 161.5h1M948 162.5h1M949 163.5h1M950 164.5h1M951 165.5h1M952 166.5h1M953 167.5h1M954 168.5h1M955 169.5h2M957 170.5h1M958 171.5h2M960 172.5h2M962 173.5h1M963 174.5h1M964 175.5h2M966 176.5h1M967 177.5h1M968 178.5h2M970 179.5h1M971 180.5h2M973 181.5h2M975 182.5h2M977 183.5h2M979 184.5h1M980 185.5h2M982 186.5h1M983 187.5h1M984 188.5h2M986 189.5h2M988 190.5h4M992 191.5h4M996 192.5h2M998 193.5h3M1001 194.5h5M1006 195.5h8M1014 196.5h16M1030 197.5h6M1036 198.5h4M1040 199.5h4M1044 200.5h2M1046 201.5h3M1049 202.5h2M1051 203.5h1M1052 204.5h1M1053 205.5h1M1054 206.5h2M1056 207.5h1M1057 208.5h1M1058 209.5h1M1059 210.5h2M1061 211.5h2M1063 212.5h2M1065 213.5h2M1067 214.5h2M1069 215.5h1M1070 216.5h2M1072 217.5h2M1074 218.5h1M1075 219.5h1M1076 220.5h2M1078 221.5h1M1079 222.5h1M1080 223.5h2M1082 224.5h2M1084 225.5h2M1086 226.5h3M1089 227.5h13M1102 228.5h9M1111 227.5h15M1126 228.5h8M1134 229.5h6M1140 230.5h4M1144 231.5h5M1149 230.5h4M1153 229.5h2M1155 228.5h2M1157 227.5h2M1159 226.5h1M1160 225.5h2M1162 224.5h1M1163 223.5h1M1164 222.5h1M1165 221.5h2M1167 220.5h1M1168 219.5h1M1169 218.5h1M1170 217.5h1M1171 216.5h2M1173 215.5h2M1175 214.5h1M1176 213.5h2M1178 212.5h1M1179 211.5h2M1181 210.5h1M1182 209.5h1M1183 208.5h2M1185 207.5h1M1186 206.5h2M1188 205.5h3M1191 204.5h2M1193 203.5h2M1195 202.5h2M1197 201.5h1M1198 200.5h1M1199 199.5h2M1201 198.5h1M1202 197.5h10M1212 198.5h4M1216 199.5h4M1220 200.5h2M1222 201.5h3M1225 202.5h3M1228 203.5h2M1230 204.5h3M1233 205.5h3M1236 206.5h4M1240 207.5h3" fill="none" stroke="#ff0000" stroke-width="1"/>
<path d="M2 340.5h9M11 341.5h1M12 342.5h1M13 343.5h1M14 344.5h1M15 345.5h1M16 346.5h1M17 347.5h1M18 348.5h1M19 349.5h1M20.5 350v2M21 352.5h1M22 353.5h1M23 354.5h1M24.5 355v2M25 357.5h1M26 358.5h1M27.5 359v2M28.5 361v2M29 363.5h1M30.5 364v2M31 366.5h1M32.5 367v2M33.5 369v2M34.5 371v2M35.5 373v2M36.5 375v2M37.5 377v2M38.5 379v2M39.5 381v2M40.5 383v2M41.5 385v2M42.5 387v2M43 389.5h1M44 390.5h2M46 391.5h1M47 392.5h1M48 393.5h2M50 394.5h2M52 395.5h2M54 396.5h3M57 397.5h2M59 396.5h1M60 395.5h1M61 394.5h2M63 393.5h1M64 392.5h1M65 391.5h1M66 390.5h2M68 391.5h4M72 392.5h7M79 391.5h4M83.5 389v2M84 388.5h1M85 387.5h1M86.5 385v2M87 384.5h1M88 383.5h1M89.5 381v2M90 380.5h1M91 379.5h2M93 378.5h1M94 377.5h1M95 376.5h2M97 375.5h1M98 374.5h1M99 375.5h1M100 376.5h2M102 377.5h1M103 378.5h1M104 379.5h2M106 380.5h4M110 381.5h6M116 380.5h3M119 379.5h2M121 378.5h3M124 379.5h2M126 380.5h3M129 381.5h2M131.5 382v2M132.5 384v2M133.5 386v2M134 388.5h1M135.5 389v2M136.5 391v2M137.5 393v2M138.5 395v2M139.5 397v2M140.5 399v2M141.5 401v2M142.5 403v2M143.5 405v2M144.5 407v2M145.5 409v2M146.5 411v3M147.5 414v2M148.5 416v2M149.5 418v3M150.5 421v2M151.5 423v3M152.5 426v2M153.5 428v2M154.5 430v3M155.5 433v3M156.5 436v3M157.5 439v3M158.5 442v4M159.5 446v3M160.5 449v3M161.5 452v3M162.5 455v3M163.5 458v4M164.5 462v4M165.5 466v4M166.5 470v4M167.5 474v4M168.5 478v4M169.5 482v4M170.5 486v2M171.5 488v2M172.5 490v2M173.5 492v2M174.5 494v2M175.5 496v2M176.5 498v2M177.5 500v2M178 502.5h1M179 503.5h1M180 504.5h2M182 505.5h1M183 506.5h1M184 507.5h2M186 508.5h1M187 507.5h2M189 506.5h2M191 505.5h1M192 504.5h2M194 503.5h1M195 502.5h1M196 501.5h1M197 500.5h1M198 499.5h1M199 498.5h1M200 497.5h1M201 496.5h1M202.5 494v2M203.5 492v2M204.5 490v2M205.5 488v2M206.5 485v3M207.5 483v2M208.5 481v2M209.5 479v2M210.5 477v2M211.5 475v2M212 474.5h1M213 473.5h1M214.5 471v2M215 470.5h1M216 469.5h1M217.5 467v2M218 466.5h1M219 465.5h2M221 464.5h1M222 463.5h1M223 462.5h2M225 461.5h1M226 460.5h1M227 459.5h1M228 458.5h1M229 457.5h1M230.5 455v2M231 454.5h1M232 453.5h1M233 452.5h1M234 451.5h1M235 450.5h1M236 449.5h1M237 448.5h2M239 447.5h1M240 446.5h1M241 445.5h1M242 444.5h3M245 443.5h4M249 442.5h2M251 441.5h2M253 440.5h1M254 439.5h1M255 438.5h2M257 437.5h1M258 436.5h1M259.5 434v2M260.5 432v2M261.5 430v2M262 429.5h1M263.5 427v2M264.5 425v2M265.5 423v2M266 422.5h1M267 421.5h2M269 420.5h1M270 419.5h1M271 418.5h2M273 417.5h1M274 416.5h2M276 415.5h3M279 414.5h2M281 413.5h2M283 414.5h2M285 415.5h2M287 416.5h2M289 417.5h10M299.5 418v2M300.5 420v2M301.5 422v2M302.5 424v2M303.5 426v2M304.5 428v2M305.5 430v2M306 432.5h1M307.5 433v2M308.5 435v2M309.5 437v2M310 439.5h1M311.5 440v2M312.5 442v2M313.5 444v2M314 446.5h1M315.5 447v2M316 449.5h1M317 450.5h1M318.5 451v2M319 453.5h1M320 454.5h1M321.5 455v2M322 457.5h1M323 456.5h2M325 455.5h1M326 454.5h1M327 453.5h2M329 452.5h1M330 451.5h1M331 450.5h1M332 449.5h1M333 448.5h1M334.5 446v2M335 445.5h1M336 444.5h1M337 443.5h1M338.5 441v2M339.5 438v3M340.5 436v2M341.5 433v3M342.5 430v3M343.5 427v3M344.5 425v2M345.5 422v3M346.5 420v2M347.5 418v2M348.5 416v2M349.5 414v2M350 413.5h1M351.5 411v2M352.5 409v2M353.5 407v2M354 406.5h1M355.5 404v2M356.5 402v2M357.5 400v2M358.5 398v2M359.5 396v2M360.5 394v2M361.5 392v2M362.5 390v2M363 389.5h1M364 388.5h1M365 387.5h1M366.5 385v2M367 384.5h1M368 383.5h1M369 382.5h1M370 381.5h4M374 382.5h5M379 383.5h2M381 384.5h2M383 385.5h2M385 386.5h2M387 387.5h1M388.5 388v2M389 390.5h1M390 391.5h1M391 392.5h1M392.5 393v2M393 395.5h1M394.5 396v2M395.5 398v3M396.5 401v3M397.5 404v3M398.5 407v3M399.5 410v3M400.5 413v3M401.5 416v3M402.5 419v3M403.5 422v4M404.5 426v3M405.5 429v3M406.5 432v4M407.5 436v3M408.5 439v3M409.5 442v4M410.5 446v3M411.5 449v3M412.5 452v3M413.5 455v3M414.5 458v2M415.5 460v3M416.5 463v3M417.5 466v3M418.5 469v3M419.5 472v3M420.5 475v4M421.5 479v3M422.5 482v3M423.5 485v3M424.5 488v4M425.5 492v3M426.5 495v2M427 496.5h1M428 497.5h4M432 498.5h3M435 497.5h2M437 496.5h1M438 495.5h1M439 494.5h2M441 493.5h1M442.5 491v2M443.5 488v3M444.5 485v3M445.5 482v3M446.5 479v3M447.5 476v3M448.5 473v3M449.5 470v3M450.5 467v3M451.5 463v4M452.5 459v4M453.5 455v4M454.5 452v3M455.5 448v4M456.5 444v4M457.5 440v4M458.5 437v3M459.5 433v4M460.5 429v4M461.5 425v4M462.5 421v4M463.5 417v4M464.5 413v4M465.5 409v4M466.5 406v3M467.5 404v2M468.5 402v2M469 401.5h1M470.5 399v2M471 398.5h1M472.5 396v2M473.5 394v2M474 393.5h1M475.5 391v2M476.5 389v2M477.5 387v2M478 386.5h1M479.5 384v2M480.5 382v2M481.5 380v2M482 379.5h1M483 380.5h1M484 381.5h1M485 382.5h1M486.5 383v2M487 385.5h1M488 386.5h1M489 387.5h1M490 388.5h1M491 389.5h1M492 390.5h1M493 391.5h1M494 392.5h1M495 393.5h1M496 394.5h1M497 395.5h1M498 396.5h1M499 397.5h1M500 398.5h1M501 399.5h1M502 400.5h1M503 401.5h1M504 402.5h1M505 403.5h1M506 404.5h5M511 403.5h6M517 402.5h4M521 401.5h2M523.5 399v2M524.5 397v2M525.5 395v2M526.5 393v2M527.5 391v2M528.5 389v2M529.5 387v2M530 386.5h1M531 385.5h1M532 384.5h1M533 383.5h1M534.5 381v2M535 380.5h1M536 379.5h1M537 378.5h1M538 377.5h3M541 376.5h4M545 375.5h3M548 374.5h3M551 373.5h2M553 372.5h3M556 371.5h3M559 370.5h2M561 369.5h2M563 370.5h1M564 371.5h1M565 372.5h1M566 373.5h1M567 374.5h1M568 375.5h1M569 376.5h1M570 377.5h9M579 376.5h1M580 375.5h1M581 374.5h1M582 373.5h1M583 372.5h1M584 371.5h1M585 370.5h1M586 369.5h1M587 368.5h1M588 367.5h1M589 366.5h2M591 365.5h1M592 364.5h1M593 363.5h1M594 362.5h1M595.5 360v2M596 359.5h1M597 358.5h1M598.5 356v2M599 355.5h1M600 354.5h1M601.5 352v2M602.5 350v2M603.5 348v2M604.5 346v2M605.5 344v2M606.5 341v3M607.5 339v2M608.5 337v2M609.5 335v2M610.5 333v2M611.5 331v2M612 330.5h1M613.5 328v2M614 327.5h1M615.5 325v2M616 324.5h1M617.5 322v2M618.5 320v2M619.5 318v2M620.5 316v2M621.5 314v2M622.5 312v2M623.5 310v2M624.5 308v2M625.5 306v2M626.5 303v3M627.5 300v3M628.5 297v3M629.5 294v3M630.5 292v2M631.5 289v3M632.5 286v3M633.5 283v3M634.5 280v3M635.5 276v4M636.5 273v3M637.5 269v4M638.5 266v3M639.5 262v4M640.5 259v3M641.5 255v4M642.5 252v3M643.5 249v3M644.5 246v3M645.5 243v3M646.5 240v3M647.5 237v3M648.5 234v3M649.5 231v3M650.5 228v3M651.5 225v3M652.5 222v3M653.5 219v3M654.5 217v2M655.5 214v3M656.5 211v3M657.5 208v3M658.5 206v2M659.5 204v2M660.5 202v2M661 201.5h1M662.5 199v2M663 198.5h1M664.5 196v2M665.5 194v2M666 193.5h1M667 192.5h2M669 191.5h2M671 190.5h1M672 189.5h2M674 188.5h1M675.5 189v2M676 191.5h1M677 192.5h1M678.5 193v2M679 195.5h1M680 196.5h1M681.5 197v2M682 199.5h4M686 200.5h5M691 201.5h2M693 202.5h2M695 203.5h2M697 204.5h3M700 205.5h4M704 206.5h7M711 205.5h4M715 204.5h1M716 203.5h1M717 202.5h1M718.5 200v2M719 199.5h1M720 198.5h1M721 197.5h1M722 196.5h1M723 195.5h1M724 194.5h1M725 193.5h2M727 192.5h1M728 191.5h1M729 190.5h1M730.5 188v2M731.5 186v2M732.5 184v2M733.5 181v3M734.5 179v2M735.5 176v3M736.5 174v2M737.5 172v2M738.5 170v2M739.5 168v2M740.5 166v2M741.5 164v2M742.5 162v2M743.5 160v2M744.5 158v2M745.5 156v2M746.5 154v2M747.5 152v2M748.5 150v2M749.5 148v2M750.5 146v2M751.5 144v2M752.5 142v2M753.5 140v2M754 139.5h1M755 138.5h1M756 137.5h1M757 136.5h2M759 135.5h1M760 134.5h1M761 133.5h1M762 132.5h4M766 133.5h5M771 134.5h1M772 135.5h1M773 136.5h1M774 137.5h1M775 138.5h1M776 139.5h1M777 140.5h1M778 141.5h1M779 142.5h1M780 143.5h1M781 144.5h1M782 145.5h2M784 146.5h1M785 147.5h1M786 148.5h1M787 149.5h1M788 150.5h1M789 151.5h1M790 152.5h1M791 153.5h1M792 154.5h1M793 155.5h1M794 156.5h9M803 155.5h1M804 154.5h1M805 153.5h1M806.5 151v2M807 150.5h1M808 149.5h1M809 148.5h1M810 147.5h1M811.5 145v2M812.5 143v2M813.5 141v2M814.5 139v2M815.5 137v2M816.5 135v2M817.5 133v2M818.5 131v2M819 130.5h1M820 129.5h1M821 128.5h2M823 127.5h1M824 126.5h1M825 125.5h1M826 124.5h2M828 123.5h2M830 122.5h2M832 121.5h2M834 120.5h1M835 119.5h1M836 118.5h1M837 117.5h1M838 116.5h1M839 115.5h1M840 114.5h1M841 113.5h1M842 112.5h2M844 111.5h2M846 110.5h2M848 109.5h2M850 108.5h2M852 109.5h2M854 110.5h3M857 111.5h3M860 110.5h3M863 109.5h2M865 108.5h2M867 107.5h2M869 106.5h2M871 105.5h1M872 104.5h2M874 103.5h1M875 104.5h1M876 105.5h1M877 106.5h1M878 107.5h2M880 108.5h1M881 109.5h1M882 110.5h1M883.5 111v2M884.5 113v2M885.5 115v2M886.5 117v2M887.5 119v2M888.5 121v2M889.5 123v2M890.5 125v3M891.5 128v2M892.5 130v2M893.5 132v2M894.5 134v2M895.5 136v2M896.5 138v2M897.5 140v2M898.5 142v2M899.5 144v2M900.5 146v2M901 148.5h1M902.5 149v2M903 151.5h1M904.5 152v2M905.5 154v2M906 156.5h1M907.5 157v2M908.5 159v2M909.5 161v2M910.5 163v2M911.5 165v2M912.5 167v2M913.5 169v2M914 171.5h1M915.5 172v2M916.5 174v2M917.5 176v2M918.5 178v2M919.5 180v2M920.5 182v2M921.5 184v2M922.5 186v2M923 188.5h1M924.5 189v2M925 191.5h1M926 192.5h1M927 193.5h1M928.5 194v2M929 196.5h1M930 197.5h1M931 198.5h1M932.5 199v2M933 201.5h1M934 202.5h1M935 203.5h1M936.5 204v2M937 206.5h1M938 207.5h1M939 208.5h2M941 209.5h2M943 210.5h2M945 211.5h2M947 212.5h2M949 213.5h2M951 214.5h2M953 215.5h2M955 214.5h1M956 213.5h1M957 212.5h2M959 211.5h1M960 210.5h1M961 209.5h1M962 208.5h1M963.5 206v2M964.5 204v2M965 203.5h1M966.5 201v2M967 200.5h1M968.5 198v2M969.5 196v2M970 195.5h1M971.5 193v2M972 192.5h1M973.5 190v2M974 189.5h1M975.5 187v2M976 186.5h1M977.5 184v2M978 183.5h4M982 184.5h5M987 183.5h1M988 182.5h1M989 181.5h1M990 180.5h1M991 179.5h1M992 178.5h1M993 177.5h1M994 176.5h1M995 177.5h1M996 178.5h1M997 179.5h1M998 180.5h1M999 181.5h1M1000 182.5h1M1001 183.5h1M1002 184.5h1M1003 185.5h1M1004 186.5h2M1006 187.5h1M1007 188.5h1M1008 189.5h2M1010 190.5h2M1012 191.5h4M1016 192.5h11M1027.5 193v2M1028 195.5h1M1029 196.5h1M1030.5 197v2M1031 199.5h1M1032 200.5h1M1033.5 201v2M1034 203.5h1M1035 204.5h1M1036 205.5h1M1037 206.5h1M1038 207.5h1M1039 208.5h1M1040 209.5h1M1041 210.5h1M1042 211.5h1M1043.5 212v2M1044.5 214v2M1045.5 216v2M1046.5 218v2M1047.5 220v2M1048.5 222v2M1049.5 224v2M1050.5 226v2M1051.5 228v3M1052.5 231v2M1053.5 233v3M1054.5 236v3M1055.5 239v3M1056.5 242v2M1057.5 244v3M1058.5 247v2M1059.5 249v2M1060.5 251v2M1061.5 253v2M1062 255.5h1M1063.5 256v2M1064.5 258v2M1065.5 260v2M1066 262.5h1M1067 263.5h2M1069 264.5h1M1070 265.5h2M1072 266.5h2M1074 267.5h3M1077 266.5h4M1081 265.5h2M1083.5 263v2M1084 262.5h1M1085.5 260v2M1086 259.5h1M1087.5 257v2M1088 256.5h1M1089.5 254v2M1090.5 252v2M1091.5 250v2M1092.5 247v3M1093.5 245v2M1094.5 242v3M1095.5 240v2M1096.5 237v3M1097.5 235v2M1098.5 233v2M1099.5 231v2M1100.5 229v2M1101 228.5h1M1102.5 226v2M1103 225.5h1M1104.5 223v2M1105.5 221v2M1106 220.5h1M1107 219.5h1M1108.5 217v2M1109 216.5h1M1110 215.5h1M1111 214.5h1M1112.5 212v2M1113 211.5h1M1114 210.5h1M1115 209.5h1M1116 208.5h1M1117 207.5h1M1118.5 205v2M1119 204.5h1M1120 203.5h1M1121 202.5h1M1122 201.5h1M1123 200.5h2M1125 199.5h2M1127 198.5h1M1128 197.5h2M1130 196.5h2M1132 197.5h4M1136 198.5h3M1139.5 199v2M1140 201.5h1M1141.5 202v2M1142 204.5h1M1143.5 205v2M1144 207.5h1M1145.5 208v2M1146 210.5h1M1147 211.5h1M1148 212.5h1M1149 213.5h1M1150 214.5h2M1152 215.5h1M1153 216.5h1M1154 217.5h3M1157 216.5h4M1161 215.5h3M1164 216.5h4M1168 217.5h5M1173 216.5h4M1177 215.5h2M1178 214.5h1M1179.5 212v2M1180.5 210v2M1181.5 208v2M1182.5 206v2M1183.5 204v2M1184.5 202v2M1185.5 200v2M1186.5 198v2M1187 197.5h1M1188 196.5h1M1189 195.5h2M1191 194.5h1M1192 193.5h1M1193 192.5h1M1194 191.5h1M1195.5 189v2M1196 188.5h1M1197.5 186v2M1198 185.5h1M1199.5 183v2M1200 182.5h1M1201.5 180v2M1202 179.5h2M1204 178.5h3M1207 177.5h2M1209 176.5h2M1211 177.5h1M1212 178.5h1M1213 179.5h1M1214 180.5h1M1215 181.5h1M1216 182.5h1M1217 183.5h1M1218 184.5h1M1219.5 185v2M1220.5 187v2M1221.5 189v2M1222 191.5h1M1223.5 192v2M1224.5 194v2M1225.5 196v2M1226 198.5h1M1227 199.5h1M1228 200.5h1M1229 201.5h1M1230 202.5h1M1231 203.5h1M1232 204.5h1M1233 205.5h1M1234.5 206v2M1235.5 208v2M1236.5 210v2M1237.5 212v2M1238.5 214v3M1239.5 217v2M1240.5 219v2M1241.5 221v2M1242.5 223v2" fill="none" stroke="#ffa500" stroke-width="1"/>
</g>
<g shape-rendering="crispEdges">
<rect x="2" y="79" width="1576" height="2" fill="#ff4500"/>
<rect x="2" y="145" width="1576" height="2" fill="#ff4500"/>
<rect x="1572" y="143" width="6" height="6" fill="#ff4500"/><rect x="1574" y="145" width="2" height="2" fill="#fff"/>
<rect x="2" y="209" width="1576" height="2" fill="#00ff00"/>
<rect x="1572" y="207" width="6" height="6" fill="#00ff00"/><rect x="1574" y="209" width="2" height="2" fill="#fff"/>
<rect x="2" y="277" width="1576" height="2" fill="#0000ff"/>
<rect x="1572" y="275" width="6" height="6" fill="#0000ff"/><rect x="1574" y="277" width="2" height="2" fill="#fff"/>
<rect x="2" y="341" width="1576" height="2" fill="#0000ff"/>
<rect x="1572" y="339" width="6" height="6" fill="#0000ff"/><rect x="1574" y="341" width="2" height="2" fill="#fff"/>
<rect x="2" y="407" width="1576" height="2" fill="#0000ff"/>
</g>
<g clip-path="url(#cr)" shape-rendering="crispEdges">
<line x1="3" y1="583.5" x2="1578" y2="583.5" stroke="#c0c0c0" stroke-width="1" stroke-dasharray="3 3" shape-rendering="crispEdges"/>
<line x1="3" y1="620.5" x2="1578" y2="620.5" stroke="#c0c0c0" stroke-width="1" stroke-dasharray="3 3" shape-rendering="crispEdges"/>
<path d="M2 585.5h1M3.5 586v2M4.5 588v2M5.5 590v2M6 592.5h1M7.5 593v2M8.5 595v2M9.5 597v2M10 599.5h4M14 600.5h8M22 601.5h6M28 600.5h2M30 599.5h2M32 598.5h2M34 597.5h1M35 598.5h2M37 599.5h2M39 600.5h2M41 601.5h3M44 602.5h2M46 603.5h3M49 604.5h4M53 603.5h4M57 602.5h2M59 601.5h1M60 600.5h1M61 599.5h2M63 598.5h1M64 597.5h1M65 596.5h1M66 595.5h1M67 596.5h2M69 597.5h1M70 598.5h2M72 599.5h2M74 600.5h10M84 599.5h2M86 598.5h2M88 597.5h2M90 596.5h2M92 597.5h2M94 598.5h3M97 599.5h5M102 600.5h6M108 601.5h4M112 602.5h4M116 601.5h2M118 600.5h2M120 599.5h2M122 598.5h9M131.5 599v2M132 601.5h1M133.5 602v2M134 604.5h1M135.5 605v2M136 607.5h1M137.5 608v2M138 610.5h2M140 611.5h2M142 612.5h3M145 613.5h3M148 614.5h4M152 615.5h6M158 616.5h6M164 617.5h2M166 618.5h3M169 619.5h10M179 618.5h2M181 617.5h1M182 616.5h1M183 615.5h2M185 614.5h1M186 613.5h1M187 612.5h1M188 611.5h1M189 610.5h2M191 609.5h1M192 608.5h1M193 607.5h1M194 606.5h5M199 605.5h5M204 604.5h3M207 603.5h2M209 602.5h2M211 603.5h2M213 604.5h1M214 605.5h2M216 606.5h2M218 607.5h5M223 606.5h4M227 605.5h1M228 604.5h1M229 603.5h1M230 602.5h1M231 601.5h1M232 600.5h1M233 599.5h1M234 598.5h4M238 599.5h8M246 600.5h6M252 601.5h4M256 602.5h3M259 601.5h1M260 600.5h1M261 599.5h2M263 598.5h1M264 597.5h1M265 596.5h1M266 595.5h5M271 594.5h5M276 595.5h2M278 596.5h3M281 597.5h2M283 598.5h1M284 599.5h1M285 600.5h1M286 601.5h2M288 602.5h1M289 603.5h1M290 604.5h5M295 603.5h4M299 604.5h2M301 605.5h1M302 606.5h2M304 607.5h2M306 608.5h3M309 607.5h4M313 606.5h10M323 605.5h1M324 604.5h1M325 603.5h1M326 602.5h1M327 601.5h1M328 600.5h1M329 599.5h1M330 598.5h2M332 597.5h3M335 596.5h2M337 595.5h3M340 594.5h2M342 593.5h2M344 592.5h2M346 591.5h1M347 592.5h2M349 593.5h1M350 594.5h2M352 595.5h2M354 596.5h3M357 595.5h4M361 594.5h6M367 593.5h4M371 594.5h2M373 595.5h1M374 596.5h2M376 597.5h2M378 598.5h3M381 597.5h4M385 596.5h2M387 597.5h1M388 598.5h1M389 599.5h1M390.5 600v2M391 602.5h1M392 603.5h1M393 604.5h1M394 605.5h1M395 606.5h1M396 607.5h1M397 608.5h1M398 609.5h2M400 610.5h1M401 611.5h1M402 612.5h4M406 613.5h16M422 614.5h5M427.5 612v2M428 611.5h1M429 610.5h1M430.5 608v2M431 607.5h1M432 606.5h1M433.5 604v2M434 603.5h2M436 604.5h4M440 605.5h3M443 604.5h1M444.5 602v2M445 601.5h1M446 600.5h1M447 599.5h1M448.5 597v2M449 596.5h1M450 595.5h2M452 594.5h3M455 593.5h2M457 592.5h6M463 591.5h4M467 592.5h1M468 593.5h2M470 594.5h1M471 595.5h1M472 596.5h2M474 597.5h9M483 598.5h1M484 599.5h2M486 600.5h1M487 601.5h1M488 602.5h2M490 603.5h2M492 602.5h2M494 601.5h2M496 600.5h2M498 599.5h5M503 598.5h8M511 597.5h13M524 596.5h2M526 595.5h2M528 594.5h2M530 593.5h9M539 594.5h2M541 595.5h2M543 596.5h2M545 597.5h6M551 596.5h12M563 597.5h2M565 598.5h1M566 599.5h2M568 600.5h2M570 601.5h1M571 600.5h2M573 599.5h2M575 598.5h1M576 597.5h2M578 596.5h2M580 595.5h2M582 594.5h2M584 593.5h2M586 592.5h10M596 591.5h3M599 590.5h2M601 589.5h6M607 588.5h8M615 587.5h4M619 586.5h2M621 585.5h2M623 584.5h1M624 583.5h2M626 582.5h2M628 581.5h3M631 580.5h2M633 579.5h3M636 578.5h2M638 577.5h2M640 576.5h2M642 575.5h2M644 576.5h2M646 577.5h3M649 578.5h5M654 579.5h13M667 580.5h2M669 581.5h2M671 582.5h2M673 583.5h2M675 584.5h2M677 585.5h2M679 586.5h2M681 587.5h3M684 586.5h3M687 585.5h2M689 584.5h2M691 585.5h2M693 586.5h2M695 587.5h2M697 588.5h6M703 587.5h8M711 586.5h6M717 585.5h4M721 584.5h3M724 583.5h3M727 582.5h2M729 581.5h3M732 580.5h3M735 579.5h2M737 578.5h5M742 579.5h13M755 580.5h2M757 581.5h1M758 582.5h2M760 583.5h2M762 584.5h1M763 585.5h1M764 586.5h1M765 587.5h1M766 588.5h2M768 589.5h1M769 590.5h1M770 591.5h5M775 590.5h21M796 589.5h3M799 588.5h2M801 587.5h3M804 586.5h3M807 585.5h2M809 584.5h2M811 583.5h2M813 582.5h2M815 581.5h1M816 580.5h2M818 579.5h1M819.5 580v2M820 582.5h1M821 583.5h1M822.5 584v2M823 586.5h1M824 587.5h1M825.5 588v2M826 590.5h2M828 591.5h2M830 592.5h3M833 593.5h2M835 592.5h2M837 591.5h2M839 590.5h1M840 589.5h2M842 588.5h13M855 587.5h4M859 588.5h2M861 589.5h2M863 590.5h2M865 591.5h5M870 592.5h5M875 593.5h1M876 594.5h1M877 595.5h1M878 596.5h2M880 597.5h1M881 598.5h1M882 599.5h1M883 600.5h1M884 601.5h1M885 602.5h1M886 603.5h2M888 604.5h1M889 605.5h1M890 606.5h5M895 605.5h13M908 606.5h4M912 607.5h3M915 608.5h2M917 609.5h1M918 610.5h2M920 611.5h2M922 612.5h2M924 613.5h4M928 614.5h11M939 613.5h1M940 612.5h1M941 611.5h1M942.5 609v2M943 608.5h1M944 607.5h1M945 606.5h1M946 605.5h2M948 606.5h2M950 607.5h3M953 608.5h2M955 607.5h2M957 606.5h2M959 605.5h1M960 604.5h2M962 603.5h2M964 602.5h2M966 601.5h2M968 600.5h2M970 599.5h4M974 600.5h5M979 601.5h2M981 602.5h1M982 603.5h2M984 604.5h2M986 605.5h1M987 604.5h2M989 603.5h2M991 602.5h1M992 601.5h2M994 600.5h1M995 601.5h1M996 602.5h1M997 603.5h1M998 604.5h1M999 605.5h1M1000 606.5h1M1001 607.5h1M1002 608.5h2M1004 607.5h2M1006 606.5h2M1008 605.5h2M1010 604.5h2M1012 603.5h3M1015 602.5h2M1017 601.5h3M1020 602.5h4M1024 603.5h3M1027 604.5h2M1029 605.5h1M1030 606.5h2M1032 607.5h2M1034 608.5h1M1035 609.5h2M1037 610.5h1M1038 611.5h2M1040 612.5h2M1042 613.5h2M1044 614.5h4M1048 615.5h4M1052 616.5h4M1056 617.5h3M1059 616.5h2M1061 615.5h1M1062 614.5h1M1063 613.5h2M1065 612.5h1M1066 611.5h2M1068 610.5h3M1071 609.5h2M1073 608.5h10M1083 607.5h2M1085 606.5h1M1086 605.5h1M1087 604.5h2M1089 603.5h1M1090 602.5h2M1092 601.5h2M1094 600.5h2M1096 599.5h2M1098 598.5h10M1108 599.5h4M1112 600.5h13M1125 599.5h4M1129 598.5h3M1132 599.5h4M1136 600.5h3M1139 601.5h1M1140.5 602v2M1141 604.5h1M1142 605.5h1M1143 606.5h1M1144.5 607v2M1145 609.5h1M1146 610.5h1M1147 609.5h2M1149 608.5h2M1151 607.5h1M1152 606.5h2M1154 605.5h1M1155 604.5h2M1157 603.5h1M1158 602.5h1M1159 601.5h2M1161 600.5h1M1162 599.5h4M1166 600.5h7M1173 599.5h4M1177 598.5h3M1180 597.5h3M1183 596.5h2M1185 595.5h2M1187 596.5h2M1189 597.5h1M1190 598.5h2M1192 599.5h2M1194 600.5h1M1195 599.5h1M1196 598.5h1M1197 597.5h1M1198.5 595v2M1199 594.5h1M1200 593.5h1M1201 592.5h1M1202 591.5h1M1203 592.5h1M1204 593.5h1M1205 594.5h1M1206.5 595v2M1207 597.5h1M1208 598.5h1M1209 599.5h1M1210 600.5h1M1211 601.5h2M1213 602.5h1M1214 603.5h2M1216 604.5h2M1218 605.5h2M1220 606.5h4M1224 607.5h7M1231 606.5h6M1237 605.5h4M1241 604.5h2" fill="none" stroke="#1e90ff" stroke-width="1"/>
</g>
<g clip-path="url(#cd)" shape-rendering="crispEdges">
<rect x="2" y="678" width="1" height="36" fill="#c0c0c0"/>
<rect x="10" y="680" width="1" height="34" fill="#c0c0c0"/>
<rect x="18" y="684" width="1" height="30" fill="#c0c0c0"/>
<rect x="26" y="689" width="1" height="25" fill="#c0c0c0"/>
<rect x="34" y="691" width="1" height="23" fill="#c0c0c0"/>
<rect x="42" y="694" width="1" height="20" fill="#c0c0c0"/>
<rect x="50" y="699" width="1" height="15" fill="#c0c0c0"/>
<rect x="58" y="702" width="1" height="12" fill="#c0c0c0"/>
<rect x="66" y="700" width="1" height="14" fill="#c0c0c0"/>
<rect x="74" y="702" width="1" height="12" fill="#c0c0c0"/>
<rect x="82" y="703" width="1" height="11" fill="#c0c0c0"/>
<rect x="90" y="702" width="1" height="12" fill="#c0c0c0"/>
<rect x="98" y="703" width="1" height="11" fill="#c0c0c0"/>
<rect x="106" y="704" width="1" height="10" fill="#c0c0c0"/>
<rect x="114" y="706" width="1" height="8" fill="#c0c0c0"/>
<rect x="122" y="706" width="1" height="8" fill="#c0c0c0"/>
<rect x="130" y="706" width="1" height="8" fill="#c0c0c0"/>
<rect x="138" y="712" width="1" height="2" fill="#c0c0c0"/>
<rect x="146" y="713" width="1" height="5" fill="#c0c0c0"/>
<rect x="154" y="713" width="1" height="11" fill="#c0c0c0"/>
<rect x="162" y="713" width="1" height="17" fill="#c0c0c0"/>
<rect x="170" y="713" width="1" height="23" fill="#c0c0c0"/>
<rect x="178" y="713" width="1" height="28" fill="#c0c0c0"/>
<rect x="186" y="713" width="1" height="29" fill="#c0c0c0"/>
<rect x="194" y="713" width="1" height="27" fill="#c0c0c0"/>
<rect x="202" y="713" width="1" height="25" fill="#c0c0c0"/>
<rect x="210" y="713" width="1" height="21" fill="#c0c0c0"/>
<rect x="218" y="713" width="1" height="21" fill="#c0c0c0"/>
<rect x="226" y="713" width="1" height="19" fill="#c0c0c0"/>
<rect x="234" y="713" width="1" height="15" fill="#c0c0c0"/>
<rect x="242" y="713" width="1" height="11" fill="#c0c0c0"/>
<rect x="250" y="713" width="1" height="9" fill="#c0c0c0"/>
<rect x="258" y="713" width="1" height="7" fill="#c0c0c0"/>
<rect x="266" y="713" width="1" height="3" fill="#c0c0c0"/>
<rect x="274" y="713" width="1" height="1" fill="#c0c0c0"/>
<rect x="282" y="711" width="1" height="3" fill="#c0c0c0"/>
<rect x="290" y="713" width="1" height="1" fill="#c0c0c0"/>
<rect x="298" y="713" width="1" height="1" fill="#c0c0c0"/>
<rect x="306" y="713" width="1" height="3" fill="#c0c0c0"/>
<rect x="314" y="713" width="1" height="5" fill="#c0c0c0"/>
<rect x="322" y="713" width="1" height="6" fill="#c0c0c0"/>
<rect x="330" y="713" width="1" height="3" fill="#c0c0c0"/>
<rect x="338" y="713" width="1" height="1" fill="#c0c0c0"/>
<rect x="346" y="708" width="1" height="6" fill="#c0c0c0"/>
<rect x="354" y="706" width="1" height="8" fill="#c0c0c0"/>
<rect x="362" y="704" width="1" height="10" fill="#c0c0c0"/>
<rect x="370" y="701" width="1" height="13" fill="#c0c0c0"/>
<rect x="378" y="702" width="1" height="12" fill="#c0c0c0"/>
<rect x="386" y="701" width="1" height="13" fill="#c0c0c0"/>
<rect x="394" y="705" width="1" height="9" fill="#c0c0c0"/>
<rect x="402" y="713" width="1" height="1" fill="#c0c0c0"/>
<rect x="410" y="713" width="1" height="6" fill="#c0c0c0"/>
<rect x="418" y="713" width="1" height="11" fill="#c0c0c0"/>
<rect x="426" y="713" width="1" height="16" fill="#c0c0c0"/>
<rect x="434" y="713" width="1" height="15" fill="#c0c0c0"/>
<rect x="442" y="713" width="1" height="14" fill="#c0c0c0"/>
<rect x="450" y="713" width="1" height="8" fill="#c0c0c0"/>
<rect x="458" y="713" width="1" height="1" fill="#c0c0c0"/>
<rect x="466" y="708" width="1" height="6" fill="#c0c0c0"/>
<rect x="474" y="706" width="1" height="8" fill="#c0c0c0"/>
<rect x="482" y="705" width="1" height="9" fill="#c0c0c0"/>
<rect x="490" y="707" width="1" height="7" fill="#c0c0c0"/>
<rect x="498" y="707" width="1" height="7" fill="#c0c0c0"/>
<rect x="506" y="705" width="1" height="9" fill="#c0c0c0"/>
<rect x="514" y="704" width="1" height="10" fill="#c0c0c0"/>
<rect x="522" y="703" width="1" height="11" fill="#c0c0c0"/>
<rect x="530" y="700" width="1" height="14" fill="#c0c0c0"/>
<rect x="538" y="698" width="1" height="16" fill="#c0c0c0"/>
<rect x="546" y="699" width="1" height="15" fill="#c0c0c0"/>
<rect x="554" y="699" width="1" height="15" fill="#c0c0c0"/>
<rect x="562" y="698" width="1" height="16" fill="#c0c0c0"/>
<rect x="570" y="701" width="1" height="13" fill="#c0c0c0"/>
<rect x="578" y="699" width="1" height="15" fill="#c0c0c0"/>
<rect x="586" y="697" width="1" height="17" fill="#c0c0c0"/>
<rect x="594" y="696" width="1" height="18" fill="#c0c0c0"/>
<rect x="602" y="693" width="1" height="21" fill="#c0c0c0"/>
<rect x="610" y="690" width="1" height="24" fill="#c0c0c0"/>
<rect x="618" y="687" width="1" height="27" fill="#c0c0c0"/>
<rect x="626" y="682" width="1" height="32" fill="#c0c0c0"/>
<rect x="634" y="676" width="1" height="38" fill="#c0c0c0"/>
<rect x="642" y="668" width="1" height="46" fill="#c0c0c0"/>
<rect x="650" y="663" width="1" height="51" fill="#c0c0c0"/>
<rect x="658" y="659" width="1" height="55" fill="#c0c0c0"/>
<rect x="666" y="658" width="1" height="56" fill="#c0c0c0"/>
<rect x="674" y="658" width="1" height="56" fill="#c0c0c0"/>
<rect x="682" y="661" width="1" height="53" fill="#c0c0c0"/>
<rect x="690" y="660" width="1" height="54" fill="#c0c0c0"/>
<rect x="698" y="663" width="1" height="51" fill="#c0c0c0"/>
<rect x="706" y="664" width="1" height="50" fill="#c0c0c0"/>
<rect x="714" y="665" width="1" height="49" fill="#c0c0c0"/>
<rect x="722" y="666" width="1" height="48" fill="#c0c0c0"/>
<rect x="730" y="665" width="1" height="49" fill="#c0c0c0"/>
<rect x="738" y="661" width="1" height="53" fill="#c0c0c0"/>
<rect x="746" y="660" width="1" height="54" fill="#c0c0c0"/>
<rect x="754" y="659" width="1" height="55" fill="#c0c0c0"/>
<rect x="762" y="660" width="1" height="54" fill="#c0c0c0"/>
<rect x="770" y="664" width="1" height="50" fill="#c0c0c0"/>
<rect x="778" y="667" width="1" height="47" fill="#c0c0c0"/>
<rect x="786" y="670" width="1" height="44" fill="#c0c0c0"/>
<rect x="794" y="673" width="1" height="41" fill="#c0c0c0"/>
<rect x="802" y="674" width="1" height="40" fill="#c0c0c0"/>
<rect x="810" y="674" width="1" height="40" fill="#c0c0c0"/>
<rect x="818" y="671" width="1" height="43" fill="#c0c0c0"/>
<rect x="826" y="673" width="1" height="41" fill="#c0c0c0"/>
<rect x="834" y="676" width="1" height="38" fill="#c0c0c0"/>
<rect x="842" y="675" width="1" height="39" fill="#c0c0c0"/>
<rect x="850" y="676" width="1" height="38" fill="#c0c0c0"/>
<rect x="858" y="676" width="1" height="38" fill="#c0c0c0"/>
<rect x="866" y="677" width="1" height="37" fill="#c0c0c0"/>
<rect x="874" y="679" width="1" height="35" fill="#c0c0c0"/>
<rect x="882" y="683" width="1" height="31" fill="#c0c0c0"/>
<rect x="890" y="690" width="1" height="24" fill="#c0c0c0"/>
<rect x="898" y="696" width="1" height="18" fill="#c0c0c0"/>
<rect x="906" y="700" width="1" height="14" fill="#c0c0c0"/>
<rect x="914" y="705" width="1" height="9" fill="#c0c0c0"/>
<rect x="922" y="711" width="1" height="3" fill="#c0c0c0"/>
<rect x="930" y="713" width="1" height="2" fill="#c0c0c0"/>
<rect x="938" y="713" width="1" height="7" fill="#c0c0c0"/>
<rect x="946" y="713" width="1" height="7" fill="#c0c0c0"/>
<rect x="954" y="713" width="1" height="9" fill="#c0c0c0"/>
<rect x="962" y="713" width="1" height="8" fill="#c0c0c0"/>
<rect x="970" y="713" width="1" height="6" fill="#c0c0c0"/>
<rect x="978" y="713" width="1" height="4" fill="#c0c0c0"/>
<rect x="986" y="713" width="1" height="5" fill="#c0c0c0"/>
<rect x="994" y="713" width="1" height="4" fill="#c0c0c0"/>
<rect x="1002" y="713" width="1" height="6" fill="#c0c0c0"/>
<rect x="1010" y="713" width="1" height="6" fill="#c0c0c0"/>
<rect x="1018" y="713" width="1" height="6" fill="#c0c0c0"/>
<rect x="1026" y="713" width="1" height="6" fill="#c0c0c0"/>
<rect x="1034" y="713" width="1" height="8" fill="#c0c0c0"/>
<rect x="1042" y="713" width="1" height="13" fill="#c0c0c0"/>
<rect x="1050" y="713" width="1" height="17" fill="#c0c0c0"/>
<rect x="1058" y="713" width="1" height="22" fill="#c0c0c0"/>
<rect x="1066" y="713" width="1" height="23" fill="#c0c0c0"/>
<rect x="1074" y="713" width="1" height="23" fill="#c0c0c0"/>
<rect x="1082" y="713" width="1" height="22" fill="#c0c0c0"/>
<rect x="1090" y="713" width="1" height="19" fill="#c0c0c0"/>
<rect x="1098" y="713" width="1" height="14" fill="#c0c0c0"/>
<rect x="1106" y="713" width="1" height="11" fill="#c0c0c0"/>
<rect x="1114" y="713" width="1" height="8" fill="#c0c0c0"/>
<rect x="1122" y="713" width="1" height="6" fill="#c0c0c0"/>
<rect x="1130" y="713" width="1" height="4" fill="#c0c0c0"/>
<rect x="1138" y="713" width="1" height="3" fill="#c0c0c0"/>
<rect x="1146" y="713" width="1" height="6" fill="#c0c0c0"/>
<rect x="1154" y="713" width="1" height="7" fill="#c0c0c0"/>
<rect x="1162" y="713" width="1" height="4" fill="#c0c0c0"/>
<rect x="1170" y="713" width="1" height="3" fill="#c0c0c0"/>
<rect x="1178" y="713" width="1" height="1" fill="#c0c0c0"/>
<rect x="1186" y="712" width="1" height="2" fill="#c0c0c0"/>
<rect x="1194" y="712" width="1" height="2" fill="#c0c0c0"/>
<rect x="1202" y="706" width="1" height="8" fill="#c0c0c0"/>
<rect x="1210" y="706" width="1" height="8" fill="#c0c0c0"/>
<rect x="1218" y="710" width="1" height="4" fill="#c0c0c0"/>
<rect x="1226" y="713" width="1" height="1" fill="#c0c0c0"/>
<rect x="1234" y="713" width="1" height="2" fill="#c0c0c0"/>
<rect x="1242" y="713" width="1" height="3" fill="#c0c0c0"/>
</g>
<g clip-path="url(#cd)" shape-rendering="crispEdges">
<path d="M2 677.5h3M8 678.5h3M14 679.5h3M20 679.5h2M22 680.5h1M26 680.5h2M28 681.5h1M32 682.5h3M38 683.5h3M44 684.5h3M50 685.5h2M52 686.5h1M56 687.5h3M62 689.5h3M68 691.5h3M74 692.5h2M76 693.5h1M80 694.5h1M81 695.5h2M86 696.5h3M92 697.5h2M94 698.5h1M98 699.5h3M104 700.5h3M110 701.5h3M116 701.5h2M118 702.5h1M122 702.5h3M128 703.5h3M134 704.5h2M136 705.5h1M140 705.5h2M142 706.5h1M146 706.5h2M148 707.5h1M152 708.5h3M158 710.5h3M164 712.5h1M165 713.5h2M170 715.5h1M171 716.5h2M176 718.5h1M177 719.5h2M182 721.5h1M183 722.5h2M188 724.5h2M190 725.5h1M194 726.5h1M195 727.5h2M200 729.5h1M201 730.5h2M206 732.5h3M212 734.5h3M218 735.5h3M224 736.5h3M230 736.5h3M236 736.5h3M242 735.5h3M248 734.5h1M249 733.5h2M254 732.5h3M260 730.5h3M266 728.5h2M268 727.5h1M272 726.5h1M273 725.5h2M278 724.5h1M279 723.5h2M284 722.5h1M285 721.5h2M290 720.5h2M292 719.5h1M296 718.5h1M297 717.5h2M302 717.5h1M303 716.5h2M308 716.5h3M314 715.5h3M320 715.5h3M326 715.5h3M332 715.5h3M338 714.5h3M344 714.5h3M350 714.5h1M351 713.5h2M356 713.5h3M362 712.5h3M368 711.5h3M374 710.5h3M380 709.5h1M381 708.5h2M386 707.5h3M392 706.5h1M393 705.5h2M398 705.5h3M404 705.5h2M406 706.5h1M410 706.5h2M412 707.5h1M416 708.5h3M422 709.5h2M424 710.5h1M428 711.5h3M434 712.5h1M435 713.5h2M440 715.5h1M441 716.5h2M446 717.5h2M448 718.5h1M452 719.5h3M458 720.5h3M464 720.5h3M470 720.5h1M471 719.5h2M476 719.5h3M482 718.5h3M488 717.5h1M489 716.5h2M494 715.5h1M495 714.5h2M500 712.5h3M506 710.5h3M512 709.5h1M513 708.5h2M518 707.5h3M524 706.5h1M525 705.5h2M530 704.5h3M536 703.5h3M542 703.5h1M543 702.5h2M548 702.5h3M554 701.5h3M560 700.5h3M566 700.5h3M572 700.5h3M578 699.5h3M584 698.5h3M590 698.5h3M596 698.5h3M602 697.5h3M608 696.5h3M614 696.5h1M615 695.5h2M620 695.5h1M621 694.5h2M626 693.5h2M628 692.5h1M632 691.5h1M633 690.5h2M638 689.5h1M639 688.5h2M644 686.5h2M646 685.5h1M650 683.5h2M652 682.5h1M656 680.5h2M658 679.5h1M662 677.5h1M663 676.5h1M664 675.5h1M668 673.5h2M670 672.5h1M674 670.5h2M676 669.5h1M680 668.5h1M681 667.5h2M686 666.5h1M687 665.5h2M692 664.5h1M693 663.5h2M698 662.5h3M704 661.5h1M705 660.5h2M710 660.5h3M716 660.5h2M718 661.5h1M722 661.5h3M728 661.5h3M734 662.5h3M740 662.5h3M746 662.5h3M752 662.5h3M758 662.5h3M764 662.5h3M770 662.5h3M776 662.5h3M782 663.5h3M788 663.5h3M794 663.5h3M800 664.5h3M806 665.5h2M808 666.5h1M812 666.5h2M814 667.5h1M818 667.5h2M820 668.5h1M824 669.5h3M830 670.5h3M836 671.5h3M842 672.5h3M848 673.5h3M854 673.5h3M860 673.5h2M862 674.5h1M866 674.5h3M872 674.5h3M878 675.5h3M884 676.5h3M890 677.5h2M892 678.5h1M896 679.5h1M897 680.5h2M902 682.5h3M908 684.5h3M914 685.5h1M915 686.5h2M920 688.5h1M921 689.5h2M926 692.5h2M928 693.5h1M932 695.5h1M933 696.5h1M934 697.5h1M938 699.5h1M939 700.5h2M944 702.5h1M945 703.5h2M950 705.5h3M956 707.5h1M957 708.5h1M958 709.5h1M962 711.5h2M964 712.5h1M968 713.5h3M974 714.5h2M976 715.5h1M980 716.5h2M982 717.5h1M986 718.5h3M992 719.5h3M998 719.5h3M1004 719.5h3M1010 719.5h3M1016 719.5h3M1022 719.5h3M1028 719.5h3M1034 719.5h3M1040 719.5h3M1046 720.5h3M1052 721.5h2M1054 722.5h1M1058 723.5h2M1060 724.5h1M1064 725.5h3M1070 726.5h3M1076 727.5h2M1078 728.5h1M1082 729.5h3M1088 730.5h3M1094 731.5h3M1100 731.5h3M1106 731.5h3M1112 731.5h3M1118 731.5h1M1119 730.5h2M1124 730.5h1M1125 729.5h2M1130 728.5h2M1132 727.5h1M1136 726.5h1M1137 725.5h2M1142 724.5h3M1148 723.5h3M1154 722.5h3M1160 721.5h1M1161 720.5h2M1166 720.5h1M1167 719.5h2M1172 719.5h3M1178 718.5h3M1184 717.5h3M1190 717.5h1M1191 716.5h2M1196 716.5h1M1197 715.5h2M1202 714.5h3M1208 713.5h3M1214 713.5h1M1215 712.5h2M1220 712.5h3M1226 711.5h3M1232 711.5h3M1238 711.5h3" fill="none" stroke="#ff0000" stroke-width="1"/>
</g>
<g shape-rendering="crispEdges" fill="#000">
<rect x="1" y="24" width="1" height="724"/>
<rect x="1578" y="24" width="1" height="724"/>
<rect x="1" y="24" width="1578" height="1"/>
<rect x="1" y="551" width="1578" height="1"/>
<rect x="1" y="553" width="1578" height="1"/>
<rect x="1" y="649" width="1578" height="1"/>
<rect x="1" y="651" width="1578" height="1"/>
<rect x="1" y="747" width="1578" height="1"/>
<rect x="0" y="552" width="1622" height="1" fill="#fff"/>
<rect x="0" y="650" width="1622" height="1" fill="#fff"/>
<rect x="1579" y="53" width="2" height="1"/>
<rect x="1579" y="86" width="2" height="1"/>
<rect x="1579" y="119" width="2" height="1"/>
<rect x="1579" y="152" width="2" height="1"/>
<rect x="1579" y="185" width="2" height="1"/>
<rect x="1579" y="218" width="2" height="1"/>
<rect x="1579" y="251" width="2" height="1"/>
<rect x="1579" y="284" width="2" height="1"/>
<rect x="1579" y="317" width="2" height="1"/>
<rect x="1579" y="350" width="2" height="1"/>
<rect x="1579" y="383" width="2" height="1"/>
<rect x="1579" y="416" width="2" height="1"/>
<rect x="1579" y="449" width="2" height="1"/>
<rect x="1579" y="482" width="2" height="1"/>
<rect x="1579" y="515" width="2" height="1"/>
<rect x="1579" y="548" width="2" height="1"/>
<rect x="1579" y="555" width="1" height="1"/>
<rect x="1579" y="583" width="1" height="1"/>
<rect x="1579" y="620" width="1" height="1"/>
<rect x="1579" y="648" width="1" height="1"/>
<rect x="1579" y="653" width="1" height="1"/>
<rect x="1579" y="713" width="1" height="1"/>
<rect x="1579" y="746" width="1" height="1"/>
<rect x="2" y="748" width="1" height="3"/>
<rect x="66" y="748" width="1" height="3"/>
<rect x="130" y="748" width="1" height="3"/>
<rect x="194" y="748" width="1" height="3"/>
<rect x="258" y="748" width="1" height="3"/>
<rect x="322" y="748" width="1" height="3"/>
<rect x="386" y="748" width="1" height="3"/>
<rect x="450" y="748" width="1" height="3"/>
<rect x="514" y="748" width="1" height="3"/>
<rect x="578" y="748" width="1" height="3"/>
<rect x="642" y="748" width="1" height="3"/>
<rect x="706" y="748" width="1" height="3"/>
<rect x="770" y="748" width="1" height="3"/>
<rect x="834" y="748" width="1" height="3"/>
<rect x="898" y="748" width="1" height="3"/>
<rect x="962" y="748" width="1" height="3"/>
<rect x="1026" y="748" width="1" height="3"/>
<rect x="1090" y="748" width="1" height="3"/>
<rect x="1154" y="748" width="1" height="3"/>
<rect x="1218" y="748" width="1" height="3"/>
</g>
<g shape-rendering="crispEdges">
<rect x="1578" y="79" width="2" height="2" fill="#ff4500"/>
<rect x="1578" y="145" width="2" height="2" fill="#ff4500"/>
<rect x="1" y="143" width="6" height="6" fill="#ff4500"/><rect x="3" y="145" width="2" height="2" fill="#fff"/>
<rect x="1578" y="209" width="2" height="2" fill="#00ff00"/>
<rect x="1" y="207" width="6" height="6" fill="#00ff00"/><rect x="3" y="209" width="2" height="2" fill="#fff"/>
<rect x="1578" y="277" width="2" height="2" fill="#0000ff"/>
<rect x="1" y="275" width="6" height="6" fill="#0000ff"/><rect x="3" y="277" width="2" height="2" fill="#fff"/>
<rect x="1578" y="341" width="2" height="2" fill="#0000ff"/>
<rect x="1" y="339" width="6" height="6" fill="#0000ff"/><rect x="3" y="341" width="2" height="2" fill="#fff"/>
<rect x="1578" y="407" width="2" height="2" fill="#0000ff"/>
</g>
<g shape-rendering="crispEdges">
<rect x="30" y="0" width="3" height="1" fill="#a0a0a0"/>
<rect x="30" y="2" width="3" height="1" fill="#a0a0a0"/>
<rect x="30" y="4" width="3" height="1" fill="#a0a0a0"/>
<rect x="30" y="6" width="3" height="1" fill="#a0a0a0"/>
<rect x="30" y="8" width="3" height="1" fill="#a0a0a0"/>
<rect x="30" y="10" width="3" height="1" fill="#a0a0a0"/>
<rect x="30" y="12" width="3" height="1" fill="#a0a0a0"/>
<rect x="30" y="14" width="3" height="1" fill="#a0a0a0"/>
<rect x="30" y="16" width="3" height="1" fill="#a0a0a0"/>
<rect x="15" y="7" width="5" height="1" fill="#000"/><rect x="16" y="8" width="3" height="1" fill="#000"/><rect x="17" y="9" width="1" height="1" fill="#000"/>
<rect x="3" y="10" width="3" height="1" fill="#505050"/><rect x="1" y="11" width="7" height="1" fill="#505050"/><rect x="2" y="12" width="5" height="1" fill="#505050"/><rect x="3" y="13" width="3" height="1" fill="#505050"/><rect x="4" y="14" width="1" height="1" fill="#505050"/>
<rect x="0" y="5" width="1" height="1" fill="#202020"/><rect x="1" y="6" width="2" height="2" fill="#202020"/><rect x="0" y="8" width="2" height="1" fill="#202020"/><rect x="0" y="9" width="1" height="1" fill="#202020"/>
<rect x="5" y="31" width="7" height="1" fill="#000"/><rect x="6" y="32" width="5" height="1" fill="#000"/><rect x="7" y="33" width="3" height="1" fill="#000"/><rect x="8" y="34" width="1" height="1" fill="#000"/>
<rect x="1596" y="776" width="1" height="7" fill="#a0a0a0"/>
<rect x="1613" y="776" width="1" height="7" fill="#000"/>
<rect x="1595" y="777" width="1" height="5" fill="#a0a0a0"/>
<rect x="1614" y="777" width="1" height="5" fill="#000"/>
<rect x="1594" y="778" width="1" height="3" fill="#a0a0a0"/>
<rect x="1615" y="778" width="1" height="3" fill="#000"/>
<rect x="1593" y="779" width="1" height="1" fill="#a0a0a0"/>
<rect x="1616" y="779" width="1" height="1" fill="#000"/>
<rect x="1257" y="25" width="9" height="1" fill="#c0c0c0"/>
<rect x="1258" y="26" width="7" height="1" fill="#c0c0c0"/>
<rect x="1259" y="27" width="5" height="1" fill="#c0c0c0"/>
<rect x="1260" y="28" width="3" height="1" fill="#c0c0c0"/>
<rect x="1261" y="29" width="1" height="1" fill="#c0c0c0"/>
</g>
</svg>
<div class="s" style="left:17px;top:28px"><span style="letter-spacing:.13px;margin-right:1px">EURUSD,Daily</span>&nbsp; 1.20616 1.20937 1.20583 1.20851</div>
<div class="s" style="left:6px;top:558px">RSI(14) 47.7351</div>
<div class="s" style="left:6px;top:656px">MACD(12,26,9) -0.000493 0.000325</div>
<div class="s" style="left:1584px;top:49px">1.23440</div>
<div class="s" style="left:1584px;top:82px">1.22930</div>
<div class="s" style="left:1584px;top:115px">1.22435</div>
<div class="s" style="left:1584px;top:148px">1.21925</div>
<div class="s" style="left:1584px;top:181px">1.21415</div>
<div class="s" style="left:1584px;top:214px">1.20905</div>
<div class="s" style="left:1584px;top:247px">1.20410</div>
<div class="s" style="left:1584px;top:280px">1.19900</div>
<div class="s" style="left:1584px;top:313px">1.19390</div>
<div class="s" style="left:1584px;top:346px">1.18895</div>
<div class="s" style="left:1584px;top:379px">1.18385</div>
<div class="s" style="left:1584px;top:412px">1.17875</div>
<div class="s" style="left:1584px;top:445px">1.17380</div>
<div class="s" style="left:1584px;top:478px">1.16870</div>
<div class="s" style="left:1584px;top:511px">1.16360</div>
<div class="s" style="left:1584px;top:544px">1.15865</div>
<div class="s" style="left:1582px;top:556px">100</div>
<div class="s" style="left:1582px;top:579px">70</div>
<div class="s" style="left:1582px;top:616px">30</div>
<div class="s" style="left:1582px;top:638px">0</div>
<div class="s" style="left:1582px;top:654px">0.009354</div>
<div class="s" style="left:1582px;top:709px">0.00</div>
<div class="s" style="left:1582px;top:736px">-0.005156</div>
<div class="box" style="top:74px;background:#ff4500"><div class="s">1.23019</div></div>
<div class="box" style="top:140px;background:#ff4500"><div class="s">1.22010</div></div>
<div class="box" style="top:204px;background:#00ff00"><div class="s">1.21032</div></div>
<div class="box" style="top:217px;background:#000"><div class="s">1.20851</div></div>
<div class="box" style="top:272px;background:#0000ff"><div class="s">1.19992</div></div>
<div class="box" style="top:336px;background:#0000ff"><div class="s">1.19015</div></div>
<div class="box" style="top:402px;background:#0000ff"><div class="s">1.17998</div></div>
<div class="s d" style="left:1px;top:752px">1 Sep 2020</div>
<div class="s d" style="left:65px;top:752px">10 Sep 2020</div>
<div class="s d" style="left:129px;top:752px">19 Sep 2020</div>
<div class="s d" style="left:193px;top:752px">29 Sep 2020</div>
<div class="s d" style="left:257px;top:752px">8 Oct 2020</div>
<div class="s d" style="left:321px;top:752px">17 Oct 2020</div>
<div class="s d" style="left:385px;top:752px">27 Oct 2020</div>
<div class="s d" style="left:449px;top:752px">5 Nov 2020</div>
<div class="s d" style="left:513px;top:752px">14 Nov 2020</div>
<div class="s d" style="left:577px;top:752px">24 Nov 2020</div>
<div class="s d" style="left:641px;top:752px">3 Dec 2020</div>
<div class="s d" style="left:705px;top:752px">12 Dec 2020</div>
<div class="s d" style="left:769px;top:752px">22 Dec 2020</div>
<div class="s d" style="left:833px;top:752px">1 Jan 2021</div>
<div class="s d" style="left:897px;top:752px">12 Jan 2021</div>
<div class="s d" style="left:961px;top:752px">21 Jan 2021</div>
<div class="s d" style="left:1025px;top:752px">30 Jan 2021</div>
<div class="s d" style="left:1089px;top:752px">9 Feb 2021</div>
<div class="s d" style="left:1153px;top:752px">18 Feb 2021</div>
<div class="s d" style="left:1217px;top:752px">27 Feb 2021</div>
</div></body></html>
